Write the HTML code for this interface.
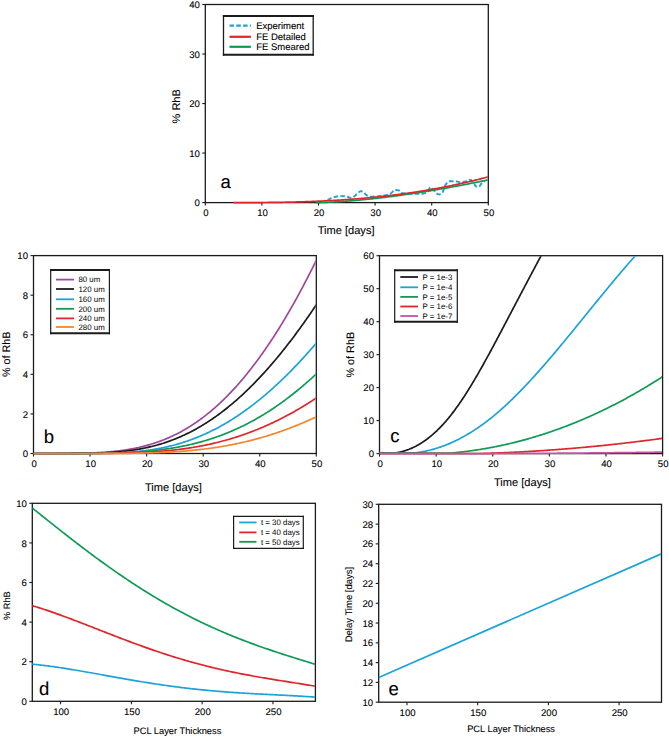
<!DOCTYPE html>
<html><head><meta charset="utf-8"><style>
html,body{margin:0;padding:0;background:#fff;}
body{width:669px;height:737px;overflow:hidden;font-family:"Liberation Sans", sans-serif;}
svg{display:block;}
</style></head><body>
<svg width="669" height="737" viewBox="0 0 669 737" font-family='"Liberation Sans", sans-serif' fill="#000" text-rendering="geometricPrecision">
<style>text{stroke:#000;stroke-width:0.1px;} text.lg{stroke:none;}</style>
<rect width="669" height="737" fill="#fff"/>
<defs>
<clipPath id="ca"><rect x="205.00" y="5.10" width="282.70" height="199.90"/></clipPath>
<clipPath id="cb"><rect x="33.20" y="256.20" width="282.50" height="199.70"/></clipPath>
<clipPath id="cc"><rect x="379.20" y="256.30" width="282.80" height="199.70"/></clipPath>
<clipPath id="cd"><rect x="32.00" y="503.90" width="282.80" height="199.80"/></clipPath>
<clipPath id="ce"><rect x="378.40" y="504.90" width="282.50" height="199.70"/></clipPath>
</defs>
<rect x="205.30" y="4.50" width="283.00" height="198.10" fill="none" stroke="#1c1a1b" stroke-width="1.3"/>
<rect x="33.50" y="255.60" width="282.80" height="197.90" fill="none" stroke="#1c1a1b" stroke-width="1.3"/>
<rect x="379.50" y="255.70" width="283.10" height="197.90" fill="none" stroke="#1c1a1b" stroke-width="1.3"/>
<rect x="32.30" y="503.30" width="283.10" height="198.00" fill="none" stroke="#1c1a1b" stroke-width="1.3"/>
<rect x="378.70" y="504.30" width="282.80" height="197.90" fill="none" stroke="#1c1a1b" stroke-width="1.3"/>
<line x1="205.30" y1="202.60" x2="205.30" y2="205.60" stroke="#1c1a1b" stroke-width="1.1"/>
<text x="205.90" y="216.00" font-size="9.6" text-anchor="middle">0</text>
<line x1="261.90" y1="202.60" x2="261.90" y2="205.60" stroke="#1c1a1b" stroke-width="1.1"/>
<text x="262.50" y="216.00" font-size="9.6" text-anchor="middle">10</text>
<line x1="318.50" y1="202.60" x2="318.50" y2="205.60" stroke="#1c1a1b" stroke-width="1.1"/>
<text x="319.10" y="216.00" font-size="9.6" text-anchor="middle">20</text>
<line x1="375.10" y1="202.60" x2="375.10" y2="205.60" stroke="#1c1a1b" stroke-width="1.1"/>
<text x="375.70" y="216.00" font-size="9.6" text-anchor="middle">30</text>
<line x1="431.70" y1="202.60" x2="431.70" y2="205.60" stroke="#1c1a1b" stroke-width="1.1"/>
<text x="432.30" y="216.00" font-size="9.6" text-anchor="middle">40</text>
<line x1="488.30" y1="202.60" x2="488.30" y2="205.60" stroke="#1c1a1b" stroke-width="1.1"/>
<text x="488.90" y="216.00" font-size="9.6" text-anchor="middle">50</text>
<line x1="202.30" y1="202.60" x2="205.30" y2="202.60" stroke="#1c1a1b" stroke-width="1.1"/>
<text x="199.80" y="206.20" font-size="9.6" text-anchor="end">0</text>
<line x1="202.30" y1="153.07" x2="205.30" y2="153.07" stroke="#1c1a1b" stroke-width="1.1"/>
<text x="199.80" y="156.67" font-size="9.6" text-anchor="end">10</text>
<line x1="202.30" y1="103.55" x2="205.30" y2="103.55" stroke="#1c1a1b" stroke-width="1.1"/>
<text x="199.80" y="107.15" font-size="9.6" text-anchor="end">20</text>
<line x1="202.30" y1="54.03" x2="205.30" y2="54.03" stroke="#1c1a1b" stroke-width="1.1"/>
<text x="199.80" y="57.63" font-size="9.6" text-anchor="end">30</text>
<line x1="202.30" y1="4.50" x2="205.30" y2="4.50" stroke="#1c1a1b" stroke-width="1.1"/>
<text x="199.80" y="8.10" font-size="9.6" text-anchor="end">40</text>
<line x1="33.50" y1="453.50" x2="33.50" y2="456.50" stroke="#1c1a1b" stroke-width="1.1"/>
<text x="34.10" y="466.90" font-size="9.6" text-anchor="middle">0</text>
<line x1="90.06" y1="453.50" x2="90.06" y2="456.50" stroke="#1c1a1b" stroke-width="1.1"/>
<text x="90.66" y="466.90" font-size="9.6" text-anchor="middle">10</text>
<line x1="146.62" y1="453.50" x2="146.62" y2="456.50" stroke="#1c1a1b" stroke-width="1.1"/>
<text x="147.22" y="466.90" font-size="9.6" text-anchor="middle">20</text>
<line x1="203.18" y1="453.50" x2="203.18" y2="456.50" stroke="#1c1a1b" stroke-width="1.1"/>
<text x="203.78" y="466.90" font-size="9.6" text-anchor="middle">30</text>
<line x1="259.74" y1="453.50" x2="259.74" y2="456.50" stroke="#1c1a1b" stroke-width="1.1"/>
<text x="260.34" y="466.90" font-size="9.6" text-anchor="middle">40</text>
<line x1="316.30" y1="453.50" x2="316.30" y2="456.50" stroke="#1c1a1b" stroke-width="1.1"/>
<text x="316.90" y="466.90" font-size="9.6" text-anchor="middle">50</text>
<line x1="30.50" y1="453.50" x2="33.50" y2="453.50" stroke="#1c1a1b" stroke-width="1.1"/>
<text x="28.00" y="457.10" font-size="9.6" text-anchor="end">0</text>
<line x1="30.50" y1="413.92" x2="33.50" y2="413.92" stroke="#1c1a1b" stroke-width="1.1"/>
<text x="28.00" y="417.52" font-size="9.6" text-anchor="end">2</text>
<line x1="30.50" y1="374.34" x2="33.50" y2="374.34" stroke="#1c1a1b" stroke-width="1.1"/>
<text x="28.00" y="377.94" font-size="9.6" text-anchor="end">4</text>
<line x1="30.50" y1="334.76" x2="33.50" y2="334.76" stroke="#1c1a1b" stroke-width="1.1"/>
<text x="28.00" y="338.36" font-size="9.6" text-anchor="end">6</text>
<line x1="30.50" y1="295.18" x2="33.50" y2="295.18" stroke="#1c1a1b" stroke-width="1.1"/>
<text x="28.00" y="298.78" font-size="9.6" text-anchor="end">8</text>
<line x1="30.50" y1="255.60" x2="33.50" y2="255.60" stroke="#1c1a1b" stroke-width="1.1"/>
<text x="28.00" y="259.20" font-size="9.6" text-anchor="end">10</text>
<line x1="379.50" y1="453.60" x2="379.50" y2="456.60" stroke="#1c1a1b" stroke-width="1.1"/>
<text x="380.10" y="467.00" font-size="9.6" text-anchor="middle">0</text>
<line x1="436.12" y1="453.60" x2="436.12" y2="456.60" stroke="#1c1a1b" stroke-width="1.1"/>
<text x="436.72" y="467.00" font-size="9.6" text-anchor="middle">10</text>
<line x1="492.74" y1="453.60" x2="492.74" y2="456.60" stroke="#1c1a1b" stroke-width="1.1"/>
<text x="493.34" y="467.00" font-size="9.6" text-anchor="middle">20</text>
<line x1="549.36" y1="453.60" x2="549.36" y2="456.60" stroke="#1c1a1b" stroke-width="1.1"/>
<text x="549.96" y="467.00" font-size="9.6" text-anchor="middle">30</text>
<line x1="605.98" y1="453.60" x2="605.98" y2="456.60" stroke="#1c1a1b" stroke-width="1.1"/>
<text x="606.58" y="467.00" font-size="9.6" text-anchor="middle">40</text>
<line x1="662.60" y1="453.60" x2="662.60" y2="456.60" stroke="#1c1a1b" stroke-width="1.1"/>
<text x="663.20" y="467.00" font-size="9.6" text-anchor="middle">50</text>
<line x1="376.50" y1="453.60" x2="379.50" y2="453.60" stroke="#1c1a1b" stroke-width="1.1"/>
<text x="374.00" y="457.20" font-size="9.6" text-anchor="end">0</text>
<line x1="376.50" y1="420.62" x2="379.50" y2="420.62" stroke="#1c1a1b" stroke-width="1.1"/>
<text x="374.00" y="424.22" font-size="9.6" text-anchor="end">10</text>
<line x1="376.50" y1="387.63" x2="379.50" y2="387.63" stroke="#1c1a1b" stroke-width="1.1"/>
<text x="374.00" y="391.23" font-size="9.6" text-anchor="end">20</text>
<line x1="376.50" y1="354.65" x2="379.50" y2="354.65" stroke="#1c1a1b" stroke-width="1.1"/>
<text x="374.00" y="358.25" font-size="9.6" text-anchor="end">30</text>
<line x1="376.50" y1="321.67" x2="379.50" y2="321.67" stroke="#1c1a1b" stroke-width="1.1"/>
<text x="374.00" y="325.27" font-size="9.6" text-anchor="end">40</text>
<line x1="376.50" y1="288.68" x2="379.50" y2="288.68" stroke="#1c1a1b" stroke-width="1.1"/>
<text x="374.00" y="292.28" font-size="9.6" text-anchor="end">50</text>
<line x1="376.50" y1="255.70" x2="379.50" y2="255.70" stroke="#1c1a1b" stroke-width="1.1"/>
<text x="374.00" y="259.30" font-size="9.6" text-anchor="end">60</text>
<line x1="60.61" y1="701.30" x2="60.61" y2="704.30" stroke="#1c1a1b" stroke-width="1.1"/>
<text x="61.21" y="714.70" font-size="9.6" text-anchor="middle">100</text>
<line x1="131.38" y1="701.30" x2="131.38" y2="704.30" stroke="#1c1a1b" stroke-width="1.1"/>
<text x="131.98" y="714.70" font-size="9.6" text-anchor="middle">150</text>
<line x1="202.16" y1="701.30" x2="202.16" y2="704.30" stroke="#1c1a1b" stroke-width="1.1"/>
<text x="202.76" y="714.70" font-size="9.6" text-anchor="middle">200</text>
<line x1="272.93" y1="701.30" x2="272.93" y2="704.30" stroke="#1c1a1b" stroke-width="1.1"/>
<text x="273.53" y="714.70" font-size="9.6" text-anchor="middle">250</text>
<line x1="29.30" y1="701.30" x2="32.30" y2="701.30" stroke="#1c1a1b" stroke-width="1.1"/>
<text x="26.80" y="704.90" font-size="9.6" text-anchor="end">0</text>
<line x1="29.30" y1="661.70" x2="32.30" y2="661.70" stroke="#1c1a1b" stroke-width="1.1"/>
<text x="26.80" y="665.30" font-size="9.6" text-anchor="end">2</text>
<line x1="29.30" y1="622.10" x2="32.30" y2="622.10" stroke="#1c1a1b" stroke-width="1.1"/>
<text x="26.80" y="625.70" font-size="9.6" text-anchor="end">4</text>
<line x1="29.30" y1="582.50" x2="32.30" y2="582.50" stroke="#1c1a1b" stroke-width="1.1"/>
<text x="26.80" y="586.10" font-size="9.6" text-anchor="end">6</text>
<line x1="29.30" y1="542.90" x2="32.30" y2="542.90" stroke="#1c1a1b" stroke-width="1.1"/>
<text x="26.80" y="546.50" font-size="9.6" text-anchor="end">8</text>
<line x1="29.30" y1="503.30" x2="32.30" y2="503.30" stroke="#1c1a1b" stroke-width="1.1"/>
<text x="26.80" y="506.90" font-size="9.6" text-anchor="end">10</text>
<line x1="406.98" y1="702.20" x2="406.98" y2="705.20" stroke="#1c1a1b" stroke-width="1.1"/>
<text x="407.58" y="715.60" font-size="9.6" text-anchor="middle">100</text>
<line x1="477.68" y1="702.20" x2="477.68" y2="705.20" stroke="#1c1a1b" stroke-width="1.1"/>
<text x="478.28" y="715.60" font-size="9.6" text-anchor="middle">150</text>
<line x1="548.38" y1="702.20" x2="548.38" y2="705.20" stroke="#1c1a1b" stroke-width="1.1"/>
<text x="548.98" y="715.60" font-size="9.6" text-anchor="middle">200</text>
<line x1="619.08" y1="702.20" x2="619.08" y2="705.20" stroke="#1c1a1b" stroke-width="1.1"/>
<text x="619.68" y="715.60" font-size="9.6" text-anchor="middle">250</text>
<line x1="375.70" y1="702.20" x2="378.70" y2="702.20" stroke="#1c1a1b" stroke-width="1.1"/>
<text x="373.20" y="705.80" font-size="9.6" text-anchor="end">10</text>
<line x1="375.70" y1="682.41" x2="378.70" y2="682.41" stroke="#1c1a1b" stroke-width="1.1"/>
<text x="373.20" y="686.01" font-size="9.6" text-anchor="end">12</text>
<line x1="375.70" y1="662.62" x2="378.70" y2="662.62" stroke="#1c1a1b" stroke-width="1.1"/>
<text x="373.20" y="666.22" font-size="9.6" text-anchor="end">14</text>
<line x1="375.70" y1="642.83" x2="378.70" y2="642.83" stroke="#1c1a1b" stroke-width="1.1"/>
<text x="373.20" y="646.43" font-size="9.6" text-anchor="end">16</text>
<line x1="375.70" y1="623.04" x2="378.70" y2="623.04" stroke="#1c1a1b" stroke-width="1.1"/>
<text x="373.20" y="626.64" font-size="9.6" text-anchor="end">18</text>
<line x1="375.70" y1="603.25" x2="378.70" y2="603.25" stroke="#1c1a1b" stroke-width="1.1"/>
<text x="373.20" y="606.85" font-size="9.6" text-anchor="end">20</text>
<line x1="375.70" y1="583.46" x2="378.70" y2="583.46" stroke="#1c1a1b" stroke-width="1.1"/>
<text x="373.20" y="587.06" font-size="9.6" text-anchor="end">22</text>
<line x1="375.70" y1="563.67" x2="378.70" y2="563.67" stroke="#1c1a1b" stroke-width="1.1"/>
<text x="373.20" y="567.27" font-size="9.6" text-anchor="end">24</text>
<line x1="375.70" y1="543.88" x2="378.70" y2="543.88" stroke="#1c1a1b" stroke-width="1.1"/>
<text x="373.20" y="547.48" font-size="9.6" text-anchor="end">26</text>
<line x1="375.70" y1="524.09" x2="378.70" y2="524.09" stroke="#1c1a1b" stroke-width="1.1"/>
<text x="373.20" y="527.69" font-size="9.6" text-anchor="end">28</text>
<line x1="375.70" y1="504.30" x2="378.70" y2="504.30" stroke="#1c1a1b" stroke-width="1.1"/>
<text x="373.20" y="507.90" font-size="9.6" text-anchor="end">30</text>
<polyline points="327.56,200.12 327.95,199.89 328.34,199.66 328.74,199.44 329.13,199.23 329.53,199.02 329.92,198.82 330.32,198.62 330.71,198.44 331.11,198.26 331.50,198.09 331.89,197.93 332.29,197.78 332.68,197.64 333.08,197.50 333.47,197.36 333.87,197.22 334.26,197.09 334.65,196.96 335.05,196.84 335.44,196.73 335.84,196.63 336.23,196.55 336.63,196.48 337.02,196.43 337.41,196.39 337.81,196.35 338.20,196.32 338.60,196.29 338.99,196.26 339.39,196.24 339.78,196.22 340.18,196.20 340.57,196.18 340.96,196.17 341.36,196.16 341.75,196.16 342.15,196.16 342.54,196.17 342.94,196.18 343.33,196.19 343.72,196.20 344.12,196.22 344.51,196.24 344.91,196.26 345.30,196.29 345.70,196.32 346.09,196.35 346.49,196.38 346.88,196.42 347.27,196.52 347.67,196.70 348.06,196.91 348.46,197.14 348.85,197.36 349.25,197.54 349.64,197.65 350.03,197.72 350.43,197.78 350.82,197.83 351.22,197.87 351.61,197.89 352.01,197.89 352.40,197.79 352.79,197.58 353.19,197.29 353.58,196.94 353.98,196.58 354.37,196.21 354.77,195.88 355.16,195.54 355.56,195.16 355.95,194.75 356.34,194.34 356.74,193.91 357.13,193.50 357.53,193.11 357.92,192.75 358.32,192.44 358.71,192.19 359.10,191.95 359.50,191.72 359.89,191.50 360.29,191.33 360.68,191.23 361.08,191.21 361.47,191.27 361.86,191.37 362.26,191.52 362.65,191.69 363.05,191.87 363.44,192.08 363.84,192.38 364.23,192.77 364.63,193.20 365.02,193.66 365.41,194.11 365.81,194.53 366.20,194.89 366.60,195.16 366.99,195.38 367.39,195.59 367.78,195.80 368.17,195.99 368.57,196.17 368.96,196.33 369.36,196.46 369.75,196.57 370.15,196.63 370.54,196.66 370.94,196.66 371.33,196.65 371.72,196.64 372.12,196.63 372.51,196.62 372.91,196.61 373.30,196.59 373.70,196.57 374.09,196.55 374.48,196.53 374.88,196.51 375.27,196.49 375.67,196.46 376.06,196.44 376.46,196.41 376.85,196.39 377.24,196.35 377.64,196.32 378.03,196.28 378.43,196.23 378.82,196.18 379.22,196.13 379.61,196.08 380.01,196.03 380.40,195.97 380.79,195.91 381.19,195.85 381.58,195.79 381.98,195.74 382.37,195.68 382.77,195.62 383.16,195.57 383.55,195.51 383.95,195.46 384.34,195.40 384.74,195.35 385.13,195.28 385.53,195.22 385.92,195.15 386.32,195.07 386.71,194.99 387.10,194.89 387.50,194.79 387.89,194.67 388.29,194.53 388.68,194.38 389.08,194.21 389.47,194.04 389.86,193.85 390.26,193.65 390.65,193.44 391.05,193.19 391.44,192.85 391.84,192.46 392.23,192.04 392.62,191.60 393.02,191.17 393.41,190.78 393.81,190.44 394.20,190.18 394.60,190.01 394.99,189.97 395.39,189.98 395.78,190.00 396.17,190.03 396.57,190.07 396.96,190.12 397.36,190.18 397.75,190.25 398.15,190.32 398.54,190.40 398.93,190.48 399.33,190.65 399.72,190.93 400.12,191.28 400.51,191.67 400.91,192.08 401.30,192.46 401.69,192.79 402.09,193.04 402.48,193.18 402.88,193.22 403.27,193.26 403.67,193.29 404.06,193.32 404.46,193.34 404.85,193.36 405.24,193.38 405.64,193.39 406.03,193.41 406.43,193.42 406.82,193.44 407.22,193.46 407.61,193.47 408.00,193.49 408.40,193.51 408.79,193.52 409.19,193.54 409.58,193.56 409.98,193.57 410.37,193.59 410.77,193.60 411.16,193.62 411.55,193.63 411.95,193.64 412.34,193.65 412.74,193.66 413.13,193.67 413.53,193.68 413.92,193.68 414.31,193.68 414.71,193.69 415.10,193.69 415.50,193.69 415.89,193.69 416.29,193.69 416.68,193.69 417.07,193.69 417.47,193.69 417.86,193.69 418.26,193.69 418.65,193.69 419.05,193.69 419.44,193.69 419.84,193.69 420.23,193.69 420.62,193.69 421.02,193.69 421.41,193.69 421.81,193.69 422.20,193.69 422.60,193.69 422.99,193.67 423.38,193.61 423.78,193.52 424.17,193.40 424.57,193.25 424.96,193.07 425.36,192.88 425.75,192.67 426.14,192.46 426.54,192.24 426.93,191.96 427.33,191.54 427.72,191.01 428.12,190.41 428.51,189.78 428.91,189.14 429.30,188.54 429.69,188.02 430.09,187.61 430.48,187.34 430.88,187.25 431.27,187.37 431.67,187.66 432.06,188.07 432.45,188.56 432.85,189.07 433.24,189.55 433.64,189.99 434.03,190.49 434.43,191.03 434.82,191.59 435.22,192.14 435.61,192.65 436.00,193.10 436.40,193.45 436.79,193.68 437.19,193.85 437.58,194.00 437.98,194.13 438.37,194.25 438.76,194.34 439.16,194.40 439.55,194.43 439.95,194.40 440.34,194.28 440.74,194.08 441.13,193.81 441.52,193.48 441.92,193.11 442.31,192.69 442.71,192.23 443.10,191.53 443.50,190.39 443.89,189.02 444.29,187.64 444.68,186.45 445.07,185.64 445.47,185.02 445.86,184.40 446.26,183.82 446.65,183.27 447.05,182.77 447.44,182.33 447.83,181.95 448.23,181.65 448.62,181.44 449.02,181.32 449.41,181.30 449.81,181.30 450.20,181.30 450.60,181.30 450.99,181.30 451.38,181.30 451.78,181.30 452.17,181.30 452.57,181.30 452.96,181.30 453.36,181.30 453.75,181.30 454.14,181.30 454.54,181.30 454.93,181.30 455.33,181.30 455.72,181.31 456.12,181.35 456.51,181.41 456.90,181.50 457.30,181.60 457.69,181.71 458.09,181.82 458.48,181.93 458.88,182.04 459.27,182.14 459.67,182.21 460.06,182.27 460.45,182.29 460.85,182.29 461.24,182.27 461.64,182.23 462.03,182.18 462.43,182.12 462.82,182.05 463.21,181.97 463.61,181.89 464.00,181.80 464.40,181.71 464.79,181.62 465.19,181.53 465.58,181.42 465.97,181.28 466.37,181.12 466.76,180.95 467.16,180.77 467.55,180.59 467.95,180.41 468.34,180.24 468.74,180.10 469.13,179.97 469.52,179.88 469.92,179.83 470.31,179.82 470.71,179.92 471.10,180.11 471.50,180.38 471.89,180.71 472.28,181.08 472.68,181.47 473.07,181.86 473.47,182.39 473.86,183.10 474.26,183.90 474.65,184.70 475.05,185.41 475.44,185.96 475.83,186.25 476.23,186.37 476.62,186.48 477.02,186.57 477.41,186.64 477.81,186.70 478.20,186.74 478.59,186.75 478.99,186.68 479.38,186.39 479.78,185.95 480.17,185.39 480.57,184.77 480.96,184.15 481.35,183.57 481.75,183.08 482.14,182.74 482.54,182.47 482.93,182.21 483.33,181.97 483.72,181.75 484.12,181.57 484.51,181.42 484.90,181.30" fill="none" stroke="#1ba3da" stroke-width="1.9" stroke-linejoin="round" stroke-dasharray="4.5 2.3" clip-path="url(#ca)"/>
<polyline points="315.67,202.60 316.54,202.60 317.40,202.59 318.27,202.57 319.14,202.56 320.01,202.54 320.87,202.52 321.74,202.49 322.61,202.47 323.48,202.44 324.34,202.41 325.21,202.38 326.08,202.35 326.95,202.31 327.81,202.27 328.68,202.24 329.55,202.20 330.42,202.16 331.28,202.11 332.15,202.07 333.02,202.02 333.89,201.98 334.75,201.93 335.62,201.88 336.49,201.83 337.36,201.78 338.22,201.72 339.09,201.67 339.96,201.61 340.83,201.55 341.69,201.50 342.56,201.44 343.43,201.38 344.30,201.31 345.16,201.25 346.03,201.19 346.90,201.12 347.77,201.06 348.63,200.99 349.50,200.92 350.37,200.85 351.24,200.78 352.10,200.71 352.97,200.64 353.84,200.56 354.71,200.49 355.57,200.41 356.44,200.34 357.31,200.26 358.18,200.18 359.04,200.10 359.91,200.02 360.78,199.94 361.65,199.86 362.51,199.77 363.38,199.69 364.25,199.60 365.12,199.52 365.98,199.43 366.85,199.34 367.72,199.25 368.59,199.16 369.45,199.07 370.32,198.98 371.19,198.89 372.06,198.80 372.92,198.70 373.79,198.61 374.66,198.51 375.53,198.42 376.39,198.32 377.26,198.22 378.13,198.12 379.00,198.02 379.86,197.92 380.73,197.82 381.60,197.72 382.47,197.61 383.33,197.51 384.20,197.40 385.07,197.30 385.94,197.19 386.80,197.09 387.67,196.98 388.54,196.87 389.41,196.76 390.27,196.65 391.14,196.54 392.01,196.43 392.88,196.31 393.74,196.20 394.61,196.09 395.48,195.97 396.35,195.85 397.21,195.74 398.08,195.62 398.95,195.50 399.82,195.38 400.68,195.27 401.55,195.15 402.42,195.02 403.29,194.90 404.15,194.78 405.02,194.66 405.89,194.53 406.76,194.41 407.62,194.28 408.49,194.16 409.36,194.03 410.23,193.90 411.09,193.78 411.96,193.65 412.83,193.52 413.70,193.39 414.56,193.26 415.43,193.13 416.30,192.99 417.17,192.86 418.03,192.73 418.90,192.59 419.77,192.46 420.64,192.32 421.50,192.19 422.37,192.05 423.24,191.91 424.11,191.77 424.97,191.63 425.84,191.50 426.71,191.36 427.58,191.21 428.44,191.07 429.31,190.93 430.18,190.79 431.05,190.64 431.91,190.50 432.78,190.36 433.65,190.21 434.52,190.06 435.38,189.92 436.25,189.77 437.12,189.62 437.99,189.47 438.85,189.32 439.72,189.17 440.59,189.02 441.46,188.87 442.32,188.72 443.19,188.57 444.06,188.41 444.93,188.26 445.79,188.11 446.66,187.95 447.53,187.80 448.40,187.64 449.26,187.48 450.13,187.33 451.00,187.17 451.87,187.01 452.73,186.85 453.60,186.69 454.47,186.53 455.34,186.37 456.20,186.21 457.07,186.05 457.94,185.88 458.81,185.72 459.67,185.56 460.54,185.39 461.41,185.23 462.28,185.06 463.14,184.89 464.01,184.73 464.88,184.56 465.75,184.39 466.61,184.22 467.48,184.05 468.35,183.88 469.22,183.71 470.08,183.54 470.95,183.37 471.82,183.20 472.69,183.02 473.55,182.85 474.42,182.68 475.29,182.50 476.16,182.33 477.02,182.15 477.89,181.98 478.76,181.80 479.63,181.62 480.49,181.44 481.36,181.27 482.23,181.09 483.10,180.91 483.96,180.73 484.83,180.55 485.70,180.37 486.57,180.18 487.43,180.00 488.30,179.82" fill="none" stroke="#0e9c54" stroke-width="1.7" stroke-linejoin="round" clip-path="url(#ca)"/>
<polyline points="233.60,202.60 234.45,202.60 235.30,202.60 236.16,202.60 237.01,202.60 237.86,202.60 238.71,202.60 239.56,202.60 240.41,202.60 241.27,202.60 242.12,202.60 242.97,202.60 243.82,202.59 244.67,202.59 245.53,202.59 246.38,202.59 247.23,202.59 248.08,202.59 248.93,202.58 249.78,202.58 250.64,202.58 251.49,202.58 252.34,202.57 253.19,202.57 254.04,202.57 254.90,202.56 255.75,202.56 256.60,202.56 257.45,202.55 258.30,202.55 259.16,202.54 260.01,202.54 260.86,202.53 261.71,202.53 262.56,202.52 263.41,202.51 264.27,202.51 265.12,202.50 265.97,202.49 266.82,202.48 267.67,202.48 268.53,202.47 269.38,202.46 270.23,202.45 271.08,202.44 271.93,202.43 272.78,202.42 273.64,202.41 274.49,202.40 275.34,202.39 276.19,202.37 277.04,202.36 277.90,202.35 278.75,202.34 279.60,202.32 280.45,202.31 281.30,202.30 282.15,202.28 283.01,202.27 283.86,202.25 284.71,202.23 285.56,202.22 286.41,202.20 287.27,202.18 288.12,202.17 288.97,202.15 289.82,202.13 290.67,202.11 291.53,202.09 292.38,202.07 293.23,202.05 294.08,202.03 294.93,202.01 295.78,201.99 296.64,201.96 297.49,201.94 298.34,201.92 299.19,201.89 300.04,201.87 300.90,201.84 301.75,201.82 302.60,201.79 303.45,201.76 304.30,201.74 305.15,201.71 306.01,201.68 306.86,201.65 307.71,201.62 308.56,201.59 309.41,201.56 310.27,201.53 311.12,201.50 311.97,201.47 312.82,201.43 313.67,201.40 314.52,201.37 315.38,201.33 316.23,201.30 317.08,201.26 317.93,201.22 318.78,201.19 319.64,201.15 320.49,201.11 321.34,201.07 322.19,201.03 323.04,200.99 323.89,200.95 324.75,200.91 325.60,200.87 326.45,200.82 327.30,200.78 328.15,200.74 329.01,200.69 329.86,200.65 330.71,200.60 331.56,200.55 332.41,200.51 333.27,200.46 334.12,200.41 334.97,200.36 335.82,200.31 336.67,200.26 337.52,200.21 338.38,200.15 339.23,200.10 340.08,200.05 340.93,199.99 341.78,199.94 342.64,199.88 343.49,199.82 344.34,199.77 345.19,199.71 346.04,199.65 346.89,199.59 347.75,199.53 348.60,199.47 349.45,199.41 350.30,199.34 351.15,199.28 352.01,199.22 352.86,199.15 353.71,199.09 354.56,199.02 355.41,198.95 356.26,198.88 357.12,198.82 357.97,198.75 358.82,198.68 359.67,198.61 360.52,198.53 361.38,198.46 362.23,198.39 363.08,198.31 363.93,198.24 364.78,198.16 365.64,198.08 366.49,198.01 367.34,197.93 368.19,197.85 369.04,197.77 369.89,197.69 370.75,197.61 371.60,197.52 372.45,197.44 373.30,197.36 374.15,197.27 375.01,197.19 375.86,197.10 376.71,197.01 377.56,196.92 378.41,196.83 379.26,196.74 380.12,196.65 380.97,196.56 381.82,196.47 382.67,196.37 383.52,196.28 384.38,196.18 385.23,196.09 386.08,195.99 386.93,195.89 387.78,195.79 388.63,195.69 389.49,195.59 390.34,195.49 391.19,195.38 392.04,195.28 392.89,195.18 393.75,195.07 394.60,194.96 395.45,194.86 396.30,194.75 397.15,194.64 398.01,194.53 398.86,194.42 399.71,194.30 400.56,194.19 401.41,194.08 402.26,193.96 403.12,193.84 403.97,193.73 404.82,193.61 405.67,193.49 406.52,193.37 407.38,193.25 408.23,193.13 409.08,193.00 409.93,192.88 410.78,192.76 411.63,192.63 412.49,192.50 413.34,192.38 414.19,192.25 415.04,192.12 415.89,191.99 416.75,191.85 417.60,191.72 418.45,191.59 419.30,191.45 420.15,191.32 421.00,191.18 421.86,191.04 422.71,190.90 423.56,190.76 424.41,190.62 425.26,190.48 426.12,190.33 426.97,190.19 427.82,190.04 428.67,189.90 429.52,189.75 430.37,189.60 431.23,189.45 432.08,189.30 432.93,189.15 433.78,189.00 434.63,188.84 435.49,188.69 436.34,188.53 437.19,188.37 438.04,188.22 438.89,188.06 439.75,187.90 440.60,187.74 441.45,187.57 442.30,187.41 443.15,187.24 444.00,187.08 444.86,186.91 445.71,186.74 446.56,186.57 447.41,186.40 448.26,186.23 449.12,186.06 449.97,185.88 450.82,185.71 451.67,185.53 452.52,185.36 453.37,185.18 454.23,185.00 455.08,184.82 455.93,184.64 456.78,184.45 457.63,184.27 458.49,184.08 459.34,183.90 460.19,183.71 461.04,183.52 461.89,183.33 462.74,183.14 463.60,182.95 464.45,182.75 465.30,182.56 466.15,182.36 467.00,182.17 467.86,181.97 468.71,181.77 469.56,181.57 470.41,181.37 471.26,181.16 472.12,180.96 472.97,180.75 473.82,180.55 474.67,180.34 475.52,180.13 476.37,179.92 477.23,179.71 478.08,179.50 478.93,179.28 479.78,179.07 480.63,178.85 481.49,178.63 482.34,178.41 483.19,178.19 484.04,177.97 484.89,177.75 485.74,177.53 486.60,177.30 487.45,177.07 488.30,176.85" fill="none" stroke="#e0262b" stroke-width="1.7" stroke-linejoin="round" clip-path="url(#ca)"/>
<polyline points="33.50,453.50 34.45,453.50 35.39,453.50 36.34,453.50 37.28,453.50 38.23,453.50 39.17,453.50 40.12,453.50 41.07,453.50 42.01,453.50 42.96,453.50 43.90,453.50 44.85,453.50 45.80,453.49 46.74,453.49 47.69,453.49 48.63,453.49 49.58,453.49 50.52,453.49 51.47,453.49 52.42,453.49 53.36,453.48 54.31,453.48 55.25,453.48 56.20,453.48 57.15,453.47 58.09,453.47 59.04,453.47 59.98,453.46 60.93,453.46 61.87,453.46 62.82,453.45 63.77,453.45 64.71,453.44 65.66,453.43 66.60,453.43 67.55,453.42 68.50,453.41 69.44,453.40 70.39,453.39 71.33,453.38 72.28,453.37 73.22,453.36 74.17,453.35 75.12,453.34 76.06,453.32 77.01,453.31 77.95,453.29 78.90,453.27 79.85,453.26 80.79,453.24 81.74,453.22 82.68,453.20 83.63,453.17 84.57,453.15 85.52,453.12 86.47,453.10 87.41,453.07 88.36,453.04 89.30,453.01 90.25,452.97 91.19,452.94 92.14,452.90 93.09,452.86 94.03,452.82 94.98,452.78 95.92,452.73 96.87,452.69 97.82,452.64 98.76,452.59 99.71,452.53 100.65,452.48 101.60,452.42 102.54,452.36 103.49,452.30 104.44,452.23 105.38,452.16 106.33,452.09 107.27,452.02 108.22,451.94 109.17,451.86 110.11,451.78 111.06,451.69 112.00,451.60 112.95,451.51 113.89,451.42 114.84,451.32 115.79,451.21 116.73,451.11 117.68,451.00 118.62,450.88 119.57,450.77 120.52,450.65 121.46,450.52 122.41,450.39 123.35,450.26 124.30,450.12 125.24,449.98 126.19,449.84 127.14,449.69 128.08,449.53 129.03,449.37 129.97,449.21 130.92,449.04 131.87,448.87 132.81,448.69 133.76,448.51 134.70,448.32 135.65,448.13 136.59,447.93 137.54,447.73 138.49,447.52 139.43,447.31 140.38,447.09 141.32,446.86 142.27,446.63 143.22,446.40 144.16,446.16 145.11,445.91 146.05,445.66 147.00,445.40 147.94,445.14 148.89,444.87 149.84,444.59 150.78,444.31 151.73,444.02 152.67,443.73 153.62,443.43 154.56,443.12 155.51,442.80 156.46,442.48 157.40,442.16 158.35,441.82 159.29,441.48 160.24,441.14 161.19,440.78 162.13,440.42 163.08,440.05 164.02,439.68 164.97,439.30 165.91,438.91 166.86,438.51 167.81,438.11 168.75,437.70 169.70,437.28 170.64,436.85 171.59,436.42 172.54,435.98 173.48,435.53 174.43,435.07 175.37,434.61 176.32,434.14 177.26,433.66 178.21,433.17 179.16,432.68 180.10,432.17 181.05,431.66 181.99,431.14 182.94,430.62 183.89,430.08 184.83,429.54 185.78,428.98 186.72,428.42 187.67,427.85 188.61,427.28 189.56,426.69 190.51,426.10 191.45,425.49 192.40,424.88 193.34,424.26 194.29,423.63 195.24,423.00 196.18,422.35 197.13,421.70 198.07,421.03 199.02,420.36 199.96,419.68 200.91,418.99 201.86,418.29 202.80,417.58 203.75,416.86 204.69,416.13 205.64,415.40 206.58,414.65 207.53,413.90 208.48,413.14 209.42,412.36 210.37,411.58 211.31,410.79 212.26,409.99 213.21,409.18 214.15,408.36 215.10,407.53 216.04,406.69 216.99,405.84 217.93,404.98 218.88,404.12 219.83,403.24 220.77,402.35 221.72,401.45 222.66,400.55 223.61,399.63 224.56,398.71 225.50,397.77 226.45,396.83 227.39,395.87 228.34,394.91 229.28,393.93 230.23,392.95 231.18,391.95 232.12,390.95 233.07,389.93 234.01,388.91 234.96,387.87 235.91,386.83 236.85,385.77 237.80,384.71 238.74,383.63 239.69,382.55 240.63,381.45 241.58,380.35 242.53,379.23 243.47,378.11 244.42,376.97 245.36,375.83 246.31,374.67 247.26,373.50 248.20,372.33 249.15,371.14 250.09,369.94 251.04,368.74 251.98,367.52 252.93,366.29 253.88,365.05 254.82,363.81 255.77,362.55 256.71,361.28 257.66,360.00 258.61,358.71 259.55,357.41 260.50,356.10 261.44,354.78 262.39,353.45 263.33,352.10 264.28,350.75 265.23,349.39 266.17,348.02 267.12,346.63 268.06,345.24 269.01,343.83 269.95,342.42 270.90,340.99 271.85,339.56 272.79,338.11 273.74,336.66 274.68,335.19 275.63,333.71 276.58,332.22 277.52,330.73 278.47,329.22 279.41,327.70 280.36,326.17 281.30,324.63 282.25,323.08 283.20,321.52 284.14,319.94 285.09,318.36 286.03,316.77 286.98,315.17 287.93,313.55 288.87,311.93 289.82,310.29 290.76,308.65 291.71,306.99 292.65,305.33 293.60,303.65 294.55,301.97 295.49,300.27 296.44,298.56 297.38,296.84 298.33,295.11 299.28,293.37 300.22,291.62 301.17,289.86 302.11,288.09 303.06,286.31 304.00,284.52 304.95,282.72 305.90,280.91 306.84,279.09 307.79,277.25 308.73,275.41 309.68,273.56 310.63,271.69 311.57,269.82 312.52,267.93 313.46,266.04 314.41,264.13 315.35,262.22 316.30,260.29" fill="none" stroke="#a0479b" stroke-width="1.7" stroke-linejoin="round" clip-path="url(#cb)"/>
<polyline points="33.50,453.50 34.45,453.50 35.39,453.50 36.34,453.50 37.28,453.50 38.23,453.50 39.17,453.50 40.12,453.50 41.07,453.50 42.01,453.50 42.96,453.50 43.90,453.50 44.85,453.50 45.80,453.50 46.74,453.50 47.69,453.50 48.63,453.50 49.58,453.50 50.52,453.50 51.47,453.50 52.42,453.50 53.36,453.50 54.31,453.50 55.25,453.50 56.20,453.50 57.15,453.50 58.09,453.50 59.04,453.50 59.98,453.49 60.93,453.49 61.87,453.49 62.82,453.49 63.77,453.49 64.71,453.49 65.66,453.49 66.60,453.48 67.55,453.48 68.50,453.48 69.44,453.48 70.39,453.47 71.33,453.47 72.28,453.46 73.22,453.46 74.17,453.46 75.12,453.45 76.06,453.44 77.01,453.44 77.95,453.43 78.90,453.42 79.85,453.41 80.79,453.40 81.74,453.39 82.68,453.38 83.63,453.37 84.57,453.36 85.52,453.35 86.47,453.33 87.41,453.32 88.36,453.30 89.30,453.28 90.25,453.26 91.19,453.24 92.14,453.22 93.09,453.20 94.03,453.17 94.98,453.15 95.92,453.12 96.87,453.09 97.82,453.06 98.76,453.03 99.71,452.99 100.65,452.96 101.60,452.92 102.54,452.88 103.49,452.84 104.44,452.79 105.38,452.75 106.33,452.70 107.27,452.65 108.22,452.60 109.17,452.54 110.11,452.48 111.06,452.42 112.00,452.36 112.95,452.29 113.89,452.22 114.84,452.15 115.79,452.08 116.73,452.00 117.68,451.92 118.62,451.84 119.57,451.75 120.52,451.66 121.46,451.57 122.41,451.47 123.35,451.37 124.30,451.27 125.24,451.16 126.19,451.05 127.14,450.93 128.08,450.82 129.03,450.69 129.97,450.57 130.92,450.44 131.87,450.30 132.81,450.17 133.76,450.02 134.70,449.88 135.65,449.73 136.59,449.57 137.54,449.41 138.49,449.25 139.43,449.08 140.38,448.91 141.32,448.73 142.27,448.55 143.22,448.36 144.16,448.17 145.11,447.97 146.05,447.77 147.00,447.57 147.94,447.36 148.89,447.14 149.84,446.92 150.78,446.69 151.73,446.46 152.67,446.22 153.62,445.98 154.56,445.73 155.51,445.48 156.46,445.22 157.40,444.96 158.35,444.69 159.29,444.41 160.24,444.13 161.19,443.85 162.13,443.55 163.08,443.26 164.02,442.95 164.97,442.64 165.91,442.33 166.86,442.00 167.81,441.68 168.75,441.34 169.70,441.00 170.64,440.66 171.59,440.31 172.54,439.95 173.48,439.58 174.43,439.21 175.37,438.84 176.32,438.45 177.26,438.06 178.21,437.67 179.16,437.27 180.10,436.86 181.05,436.44 181.99,436.02 182.94,435.59 183.89,435.16 184.83,434.72 185.78,434.27 186.72,433.82 187.67,433.36 188.61,432.89 189.56,432.41 190.51,431.93 191.45,431.44 192.40,430.95 193.34,430.45 194.29,429.94 195.24,429.42 196.18,428.90 197.13,428.37 198.07,427.84 199.02,427.29 199.96,426.75 200.91,426.19 201.86,425.63 202.80,425.05 203.75,424.48 204.69,423.89 205.64,423.30 206.58,422.70 207.53,422.10 208.48,421.48 209.42,420.86 210.37,420.24 211.31,419.60 212.26,418.96 213.21,418.31 214.15,417.66 215.10,417.00 216.04,416.33 216.99,415.65 217.93,414.96 218.88,414.27 219.83,413.58 220.77,412.87 221.72,412.16 222.66,411.44 223.61,410.71 224.56,409.97 225.50,409.23 226.45,408.48 227.39,407.73 228.34,406.96 229.28,406.19 230.23,405.42 231.18,404.63 232.12,403.84 233.07,403.04 234.01,402.23 234.96,401.42 235.91,400.59 236.85,399.77 237.80,398.93 238.74,398.09 239.69,397.24 240.63,396.38 241.58,395.51 242.53,394.64 243.47,393.76 244.42,392.87 245.36,391.98 246.31,391.08 247.26,390.17 248.20,389.25 249.15,388.33 250.09,387.40 251.04,386.46 251.98,385.52 252.93,384.57 253.88,383.61 254.82,382.64 255.77,381.67 256.71,380.69 257.66,379.70 258.61,378.70 259.55,377.70 260.50,376.69 261.44,375.67 262.39,374.65 263.33,373.62 264.28,372.58 265.23,371.53 266.17,370.48 267.12,369.42 268.06,368.36 269.01,367.28 269.95,366.20 270.90,365.11 271.85,364.02 272.79,362.92 273.74,361.81 274.68,360.69 275.63,359.57 276.58,358.44 277.52,357.30 278.47,356.15 279.41,355.00 280.36,353.84 281.30,352.68 282.25,351.51 283.20,350.33 284.14,349.14 285.09,347.95 286.03,346.75 286.98,345.54 287.93,344.33 288.87,343.10 289.82,341.88 290.76,340.64 291.71,339.40 292.65,338.15 293.60,336.90 294.55,335.64 295.49,334.37 296.44,333.09 297.38,331.81 298.33,330.52 299.28,329.22 300.22,327.92 301.17,326.61 302.11,325.29 303.06,323.97 304.00,322.64 304.95,321.31 305.90,319.96 306.84,318.61 307.79,317.26 308.73,315.90 309.68,314.53 310.63,313.15 311.57,311.77 312.52,310.38 313.46,308.98 314.41,307.58 315.35,306.17 316.30,304.76" fill="none" stroke="#1c1a1b" stroke-width="1.7" stroke-linejoin="round" clip-path="url(#cb)"/>
<polyline points="33.50,453.50 34.45,453.50 35.39,453.50 36.34,453.50 37.28,453.50 38.23,453.50 39.17,453.50 40.12,453.50 41.07,453.50 42.01,453.50 42.96,453.50 43.90,453.50 44.85,453.50 45.80,453.50 46.74,453.50 47.69,453.50 48.63,453.50 49.58,453.50 50.52,453.50 51.47,453.50 52.42,453.50 53.36,453.50 54.31,453.50 55.25,453.50 56.20,453.50 57.15,453.50 58.09,453.50 59.04,453.50 59.98,453.50 60.93,453.50 61.87,453.50 62.82,453.50 63.77,453.50 64.71,453.50 65.66,453.50 66.60,453.50 67.55,453.50 68.50,453.50 69.44,453.50 70.39,453.50 71.33,453.50 72.28,453.50 73.22,453.50 74.17,453.49 75.12,453.49 76.06,453.49 77.01,453.49 77.95,453.49 78.90,453.49 79.85,453.49 80.79,453.48 81.74,453.48 82.68,453.48 83.63,453.48 84.57,453.47 85.52,453.47 86.47,453.47 87.41,453.46 88.36,453.46 89.30,453.45 90.25,453.45 91.19,453.44 92.14,453.43 93.09,453.43 94.03,453.42 94.98,453.41 95.92,453.40 96.87,453.39 97.82,453.38 98.76,453.37 99.71,453.35 100.65,453.34 101.60,453.32 102.54,453.31 103.49,453.29 104.44,453.27 105.38,453.25 106.33,453.23 107.27,453.21 108.22,453.19 109.17,453.16 110.11,453.14 111.06,453.11 112.00,453.08 112.95,453.05 113.89,453.02 114.84,452.99 115.79,452.95 116.73,452.91 117.68,452.87 118.62,452.83 119.57,452.79 120.52,452.74 121.46,452.70 122.41,452.65 123.35,452.59 124.30,452.54 125.24,452.48 126.19,452.42 127.14,452.36 128.08,452.30 129.03,452.23 129.97,452.16 130.92,452.09 131.87,452.02 132.81,451.94 133.76,451.86 134.70,451.78 135.65,451.69 136.59,451.60 137.54,451.51 138.49,451.41 139.43,451.32 140.38,451.21 141.32,451.11 142.27,451.00 143.22,450.89 144.16,450.77 145.11,450.66 146.05,450.53 147.00,450.41 147.94,450.28 148.89,450.14 149.84,450.01 150.78,449.87 151.73,449.72 152.67,449.57 153.62,449.42 154.56,449.26 155.51,449.10 156.46,448.94 157.40,448.77 158.35,448.59 159.29,448.42 160.24,448.24 161.19,448.05 162.13,447.86 163.08,447.66 164.02,447.46 164.97,447.26 165.91,447.05 166.86,446.84 167.81,446.62 168.75,446.40 169.70,446.17 170.64,445.94 171.59,445.70 172.54,445.46 173.48,445.21 174.43,444.96 175.37,444.71 176.32,444.45 177.26,444.18 178.21,443.91 179.16,443.63 180.10,443.35 181.05,443.07 181.99,442.77 182.94,442.48 183.89,442.18 184.83,441.87 185.78,441.56 186.72,441.24 187.67,440.92 188.61,440.59 189.56,440.25 190.51,439.92 191.45,439.57 192.40,439.22 193.34,438.87 194.29,438.50 195.24,438.14 196.18,437.77 197.13,437.39 198.07,437.01 199.02,436.62 199.96,436.22 200.91,435.82 201.86,435.42 202.80,435.01 203.75,434.59 204.69,434.17 205.64,433.74 206.58,433.31 207.53,432.87 208.48,432.42 209.42,431.97 210.37,431.51 211.31,431.05 212.26,430.58 213.21,430.11 214.15,429.63 215.10,429.14 216.04,428.65 216.99,428.15 217.93,427.65 218.88,427.14 219.83,426.63 220.77,426.11 221.72,425.58 222.66,425.05 223.61,424.51 224.56,423.96 225.50,423.41 226.45,422.85 227.39,422.29 228.34,421.72 229.28,421.15 230.23,420.57 231.18,419.98 232.12,419.39 233.07,418.79 234.01,418.19 234.96,417.58 235.91,416.96 236.85,416.34 237.80,415.71 238.74,415.08 239.69,414.44 240.63,413.79 241.58,413.14 242.53,412.48 243.47,411.82 244.42,411.15 245.36,410.47 246.31,409.79 247.26,409.10 248.20,408.41 249.15,407.71 250.09,407.00 251.04,406.29 251.98,405.57 252.93,404.85 253.88,404.12 254.82,403.38 255.77,402.64 256.71,401.89 257.66,401.14 258.61,400.38 259.55,399.62 260.50,398.84 261.44,398.07 262.39,397.28 263.33,396.49 264.28,395.70 265.23,394.90 266.17,394.09 267.12,393.28 268.06,392.46 269.01,391.64 269.95,390.81 270.90,389.97 271.85,389.13 272.79,388.28 273.74,387.43 274.68,386.57 275.63,385.70 276.58,384.83 277.52,383.95 278.47,383.07 279.41,382.18 280.36,381.29 281.30,380.39 282.25,379.48 283.20,378.57 284.14,377.65 285.09,376.73 286.03,375.80 286.98,374.87 287.93,373.93 288.87,372.98 289.82,372.03 290.76,371.07 291.71,370.11 292.65,369.14 293.60,368.17 294.55,367.19 295.49,366.20 296.44,365.21 297.38,364.21 298.33,363.21 299.28,362.20 300.22,361.19 301.17,360.17 302.11,359.15 303.06,358.12 304.00,357.08 304.95,356.04 305.90,354.99 306.84,353.94 307.79,352.88 308.73,351.82 309.68,350.75 310.63,349.68 311.57,348.60 312.52,347.51 313.46,346.42 314.41,345.33 315.35,344.23 316.30,343.12" fill="none" stroke="#1ba3da" stroke-width="1.7" stroke-linejoin="round" clip-path="url(#cb)"/>
<polyline points="33.50,453.50 34.45,453.50 35.39,453.50 36.34,453.50 37.28,453.50 38.23,453.50 39.17,453.50 40.12,453.50 41.07,453.50 42.01,453.50 42.96,453.50 43.90,453.50 44.85,453.50 45.80,453.50 46.74,453.50 47.69,453.50 48.63,453.50 49.58,453.50 50.52,453.50 51.47,453.50 52.42,453.50 53.36,453.50 54.31,453.50 55.25,453.50 56.20,453.50 57.15,453.50 58.09,453.50 59.04,453.49 59.98,453.49 60.93,453.49 61.87,453.49 62.82,453.49 63.77,453.49 64.71,453.49 65.66,453.49 66.60,453.49 67.55,453.49 68.50,453.48 69.44,453.48 70.39,453.48 71.33,453.48 72.28,453.48 73.22,453.47 74.17,453.47 75.12,453.47 76.06,453.47 77.01,453.46 77.95,453.46 78.90,453.46 79.85,453.45 80.79,453.45 81.74,453.44 82.68,453.44 83.63,453.43 84.57,453.43 85.52,453.42 86.47,453.42 87.41,453.41 88.36,453.40 89.30,453.40 90.25,453.39 91.19,453.38 92.14,453.37 93.09,453.36 94.03,453.35 94.98,453.34 95.92,453.33 96.87,453.32 97.82,453.31 98.76,453.30 99.71,453.28 100.65,453.27 101.60,453.25 102.54,453.24 103.49,453.22 104.44,453.21 105.38,453.19 106.33,453.17 107.27,453.15 108.22,453.13 109.17,453.11 110.11,453.09 111.06,453.06 112.00,453.04 112.95,453.02 113.89,452.99 114.84,452.96 115.79,452.93 116.73,452.91 117.68,452.87 118.62,452.84 119.57,452.81 120.52,452.78 121.46,452.74 122.41,452.70 123.35,452.67 124.30,452.63 125.24,452.59 126.19,452.54 127.14,452.50 128.08,452.46 129.03,452.41 129.97,452.36 130.92,452.31 131.87,452.26 132.81,452.21 133.76,452.15 134.70,452.10 135.65,452.04 136.59,451.98 137.54,451.92 138.49,451.85 139.43,451.79 140.38,451.72 141.32,451.65 142.27,451.58 143.22,451.50 144.16,451.43 145.11,451.35 146.05,451.27 147.00,451.19 147.94,451.11 148.89,451.02 149.84,450.93 150.78,450.84 151.73,450.75 152.67,450.65 153.62,450.55 154.56,450.45 155.51,450.35 156.46,450.24 157.40,450.14 158.35,450.03 159.29,449.91 160.24,449.80 161.19,449.68 162.13,449.56 163.08,449.43 164.02,449.31 164.97,449.18 165.91,449.04 166.86,448.91 167.81,448.77 168.75,448.63 169.70,448.49 170.64,448.34 171.59,448.19 172.54,448.04 173.48,447.88 174.43,447.72 175.37,447.56 176.32,447.39 177.26,447.22 178.21,447.05 179.16,446.87 180.10,446.70 181.05,446.51 181.99,446.33 182.94,446.14 183.89,445.95 184.83,445.75 185.78,445.55 186.72,445.35 187.67,445.14 188.61,444.93 189.56,444.72 190.51,444.50 191.45,444.28 192.40,444.05 193.34,443.82 194.29,443.59 195.24,443.35 196.18,443.11 197.13,442.87 198.07,442.62 199.02,442.37 199.96,442.11 200.91,441.85 201.86,441.59 202.80,441.32 203.75,441.05 204.69,440.77 205.64,440.49 206.58,440.21 207.53,439.92 208.48,439.63 209.42,439.33 210.37,439.03 211.31,438.73 212.26,438.42 213.21,438.10 214.15,437.78 215.10,437.46 216.04,437.13 216.99,436.80 217.93,436.47 218.88,436.13 219.83,435.78 220.77,435.43 221.72,435.08 222.66,434.72 223.61,434.36 224.56,433.99 225.50,433.62 226.45,433.24 227.39,432.86 228.34,432.47 229.28,432.08 230.23,431.68 231.18,431.28 232.12,430.88 233.07,430.47 234.01,430.05 234.96,429.63 235.91,429.21 236.85,428.78 237.80,428.35 238.74,427.91 239.69,427.46 240.63,427.01 241.58,426.56 242.53,426.10 243.47,425.64 244.42,425.17 245.36,424.70 246.31,424.22 247.26,423.73 248.20,423.24 249.15,422.75 250.09,422.25 251.04,421.75 251.98,421.24 252.93,420.72 253.88,420.20 254.82,419.68 255.77,419.15 256.71,418.61 257.66,418.07 258.61,417.52 259.55,416.97 260.50,416.42 261.44,415.85 262.39,415.29 263.33,414.72 264.28,414.14 265.23,413.56 266.17,412.97 267.12,412.37 268.06,411.77 269.01,411.17 269.95,410.56 270.90,409.95 271.85,409.32 272.79,408.70 273.74,408.07 274.68,407.43 275.63,406.79 276.58,406.14 277.52,405.49 278.47,404.83 279.41,404.16 280.36,403.49 281.30,402.82 282.25,402.14 283.20,401.45 284.14,400.76 285.09,400.06 286.03,399.36 286.98,398.65 287.93,397.94 288.87,397.22 289.82,396.49 290.76,395.76 291.71,395.03 292.65,394.28 293.60,393.54 294.55,392.78 295.49,392.02 296.44,391.26 297.38,390.49 298.33,389.71 299.28,388.93 300.22,388.14 301.17,387.35 302.11,386.55 303.06,385.75 304.00,384.94 304.95,384.12 305.90,383.30 306.84,382.48 307.79,381.64 308.73,380.80 309.68,379.96 310.63,379.11 311.57,378.26 312.52,377.39 313.46,376.53 314.41,375.66 315.35,374.78 316.30,373.89" fill="none" stroke="#0e9c54" stroke-width="1.7" stroke-linejoin="round" clip-path="url(#cb)"/>
<polyline points="33.50,453.50 34.45,453.50 35.39,453.50 36.34,453.50 37.28,453.50 38.23,453.50 39.17,453.50 40.12,453.50 41.07,453.50 42.01,453.50 42.96,453.50 43.90,453.50 44.85,453.50 45.80,453.50 46.74,453.50 47.69,453.50 48.63,453.50 49.58,453.50 50.52,453.50 51.47,453.50 52.42,453.50 53.36,453.50 54.31,453.50 55.25,453.50 56.20,453.50 57.15,453.50 58.09,453.50 59.04,453.50 59.98,453.50 60.93,453.50 61.87,453.50 62.82,453.50 63.77,453.50 64.71,453.50 65.66,453.50 66.60,453.50 67.55,453.50 68.50,453.50 69.44,453.50 70.39,453.50 71.33,453.50 72.28,453.50 73.22,453.49 74.17,453.49 75.12,453.49 76.06,453.49 77.01,453.49 77.95,453.49 78.90,453.49 79.85,453.49 80.79,453.49 81.74,453.49 82.68,453.48 83.63,453.48 84.57,453.48 85.52,453.48 86.47,453.48 87.41,453.47 88.36,453.47 89.30,453.47 90.25,453.47 91.19,453.46 92.14,453.46 93.09,453.45 94.03,453.45 94.98,453.45 95.92,453.44 96.87,453.44 97.82,453.43 98.76,453.43 99.71,453.42 100.65,453.41 101.60,453.41 102.54,453.40 103.49,453.39 104.44,453.39 105.38,453.38 106.33,453.37 107.27,453.36 108.22,453.35 109.17,453.34 110.11,453.33 111.06,453.32 112.00,453.30 112.95,453.29 113.89,453.28 114.84,453.26 115.79,453.25 116.73,453.23 117.68,453.22 118.62,453.20 119.57,453.18 120.52,453.16 121.46,453.15 122.41,453.13 123.35,453.10 124.30,453.08 125.24,453.06 126.19,453.04 127.14,453.01 128.08,452.99 129.03,452.96 129.97,452.93 130.92,452.90 131.87,452.87 132.81,452.84 133.76,452.81 134.70,452.78 135.65,452.74 136.59,452.71 137.54,452.67 138.49,452.63 139.43,452.59 140.38,452.55 141.32,452.51 142.27,452.47 143.22,452.42 144.16,452.37 145.11,452.33 146.05,452.28 147.00,452.23 147.94,452.17 148.89,452.12 149.84,452.07 150.78,452.01 151.73,451.95 152.67,451.89 153.62,451.83 154.56,451.76 155.51,451.70 156.46,451.63 157.40,451.56 158.35,451.49 159.29,451.42 160.24,451.34 161.19,451.27 162.13,451.19 163.08,451.11 164.02,451.03 164.97,450.94 165.91,450.86 166.86,450.77 167.81,450.68 168.75,450.58 169.70,450.49 170.64,450.39 171.59,450.29 172.54,450.19 173.48,450.09 174.43,449.98 175.37,449.87 176.32,449.76 177.26,449.65 178.21,449.53 179.16,449.42 180.10,449.30 181.05,449.17 181.99,449.05 182.94,448.92 183.89,448.79 184.83,448.66 185.78,448.53 186.72,448.39 187.67,448.25 188.61,448.10 189.56,447.96 190.51,447.81 191.45,447.66 192.40,447.51 193.34,447.35 194.29,447.19 195.24,447.03 196.18,446.87 197.13,446.70 198.07,446.53 199.02,446.35 199.96,446.18 200.91,446.00 201.86,445.82 202.80,445.63 203.75,445.45 204.69,445.25 205.64,445.06 206.58,444.86 207.53,444.66 208.48,444.46 209.42,444.26 210.37,444.05 211.31,443.84 212.26,443.62 213.21,443.40 214.15,443.18 215.10,442.96 216.04,442.73 216.99,442.50 217.93,442.26 218.88,442.02 219.83,441.78 220.77,441.54 221.72,441.29 222.66,441.04 223.61,440.79 224.56,440.53 225.50,440.27 226.45,440.01 227.39,439.74 228.34,439.47 229.28,439.19 230.23,438.92 231.18,438.63 232.12,438.35 233.07,438.06 234.01,437.77 234.96,437.47 235.91,437.18 236.85,436.87 237.80,436.57 238.74,436.26 239.69,435.95 240.63,435.63 241.58,435.31 242.53,434.99 243.47,434.66 244.42,434.33 245.36,433.99 246.31,433.66 247.26,433.31 248.20,432.97 249.15,432.62 250.09,432.27 251.04,431.91 251.98,431.55 252.93,431.19 253.88,430.82 254.82,430.45 255.77,430.07 256.71,429.70 257.66,429.31 258.61,428.93 259.55,428.54 260.50,428.14 261.44,427.75 262.39,427.34 263.33,426.94 264.28,426.53 265.23,426.12 266.17,425.70 267.12,425.28 268.06,424.86 269.01,424.43 269.95,424.00 270.90,423.56 271.85,423.12 272.79,422.68 273.74,422.23 274.68,421.78 275.63,421.32 276.58,420.86 277.52,420.40 278.47,419.93 279.41,419.46 280.36,418.99 281.30,418.51 282.25,418.03 283.20,417.54 284.14,417.05 285.09,416.56 286.03,416.06 286.98,415.56 287.93,415.05 288.87,414.54 289.82,414.03 290.76,413.51 291.71,412.99 292.65,412.46 293.60,411.93 294.55,411.40 295.49,410.86 296.44,410.32 297.38,409.77 298.33,409.22 299.28,408.67 300.22,408.11 301.17,407.55 302.11,406.98 303.06,406.41 304.00,405.84 304.95,405.26 305.90,404.68 306.84,404.09 307.79,403.50 308.73,402.91 309.68,402.31 310.63,401.71 311.57,401.10 312.52,400.49 313.46,399.88 314.41,399.26 315.35,398.64 316.30,398.02" fill="none" stroke="#e0262b" stroke-width="1.7" stroke-linejoin="round" clip-path="url(#cb)"/>
<polyline points="33.50,453.50 34.45,453.50 35.39,453.50 36.34,453.50 37.28,453.50 38.23,453.50 39.17,453.50 40.12,453.50 41.07,453.50 42.01,453.50 42.96,453.50 43.90,453.50 44.85,453.50 45.80,453.50 46.74,453.50 47.69,453.50 48.63,453.50 49.58,453.50 50.52,453.50 51.47,453.50 52.42,453.50 53.36,453.50 54.31,453.50 55.25,453.50 56.20,453.50 57.15,453.50 58.09,453.50 59.04,453.50 59.98,453.50 60.93,453.50 61.87,453.50 62.82,453.50 63.77,453.50 64.71,453.50 65.66,453.50 66.60,453.50 67.55,453.50 68.50,453.50 69.44,453.50 70.39,453.50 71.33,453.50 72.28,453.50 73.22,453.50 74.17,453.50 75.12,453.50 76.06,453.50 77.01,453.50 77.95,453.50 78.90,453.50 79.85,453.50 80.79,453.50 81.74,453.50 82.68,453.50 83.63,453.50 84.57,453.50 85.52,453.50 86.47,453.50 87.41,453.50 88.36,453.49 89.30,453.49 90.25,453.49 91.19,453.49 92.14,453.49 93.09,453.49 94.03,453.49 94.98,453.49 95.92,453.49 96.87,453.49 97.82,453.48 98.76,453.48 99.71,453.48 100.65,453.48 101.60,453.48 102.54,453.48 103.49,453.47 104.44,453.47 105.38,453.47 106.33,453.46 107.27,453.46 108.22,453.46 109.17,453.45 110.11,453.45 111.06,453.45 112.00,453.44 112.95,453.44 113.89,453.43 114.84,453.43 115.79,453.42 116.73,453.42 117.68,453.41 118.62,453.40 119.57,453.40 120.52,453.39 121.46,453.38 122.41,453.37 123.35,453.37 124.30,453.36 125.24,453.35 126.19,453.34 127.14,453.33 128.08,453.32 129.03,453.31 129.97,453.29 130.92,453.28 131.87,453.27 132.81,453.25 133.76,453.24 134.70,453.23 135.65,453.21 136.59,453.19 137.54,453.18 138.49,453.16 139.43,453.14 140.38,453.12 141.32,453.10 142.27,453.08 143.22,453.06 144.16,453.04 145.11,453.02 146.05,452.99 147.00,452.97 147.94,452.94 148.89,452.92 149.84,452.89 150.78,452.86 151.73,452.83 152.67,452.80 153.62,452.77 154.56,452.74 155.51,452.70 156.46,452.67 157.40,452.63 158.35,452.60 159.29,452.56 160.24,452.52 161.19,452.48 162.13,452.44 163.08,452.40 164.02,452.35 164.97,452.31 165.91,452.26 166.86,452.21 167.81,452.16 168.75,452.11 169.70,452.06 170.64,452.01 171.59,451.95 172.54,451.90 173.48,451.84 174.43,451.78 175.37,451.72 176.32,451.66 177.26,451.60 178.21,451.53 179.16,451.46 180.10,451.40 181.05,451.33 181.99,451.25 182.94,451.18 183.89,451.11 184.83,451.03 185.78,450.95 186.72,450.87 187.67,450.79 188.61,450.71 189.56,450.62 190.51,450.53 191.45,450.44 192.40,450.35 193.34,450.26 194.29,450.17 195.24,450.07 196.18,449.97 197.13,449.87 198.07,449.77 199.02,449.66 199.96,449.56 200.91,449.45 201.86,449.34 202.80,449.23 203.75,449.11 204.69,449.00 205.64,448.88 206.58,448.76 207.53,448.63 208.48,448.51 209.42,448.38 210.37,448.25 211.31,448.12 212.26,447.98 213.21,447.85 214.15,447.71 215.10,447.57 216.04,447.43 216.99,447.28 217.93,447.13 218.88,446.98 219.83,446.83 220.77,446.68 221.72,446.52 222.66,446.36 223.61,446.20 224.56,446.03 225.50,445.86 226.45,445.70 227.39,445.52 228.34,445.35 229.28,445.17 230.23,444.99 231.18,444.81 232.12,444.63 233.07,444.44 234.01,444.25 234.96,444.06 235.91,443.86 236.85,443.66 237.80,443.46 238.74,443.26 239.69,443.06 240.63,442.85 241.58,442.64 242.53,442.42 243.47,442.21 244.42,441.99 245.36,441.77 246.31,441.54 247.26,441.32 248.20,441.09 249.15,440.86 250.09,440.62 251.04,440.38 251.98,440.14 252.93,439.90 253.88,439.65 254.82,439.40 255.77,439.15 256.71,438.89 257.66,438.64 258.61,438.38 259.55,438.11 260.50,437.85 261.44,437.58 262.39,437.30 263.33,437.03 264.28,436.75 265.23,436.47 266.17,436.19 267.12,435.90 268.06,435.61 269.01,435.32 269.95,435.02 270.90,434.72 271.85,434.42 272.79,434.12 273.74,433.81 274.68,433.50 275.63,433.19 276.58,432.87 277.52,432.55 278.47,432.23 279.41,431.90 280.36,431.57 281.30,431.24 282.25,430.91 283.20,430.57 284.14,430.23 285.09,429.88 286.03,429.54 286.98,429.19 287.93,428.83 288.87,428.48 289.82,428.12 290.76,427.76 291.71,427.39 292.65,427.02 293.60,426.65 294.55,426.28 295.49,425.90 296.44,425.52 297.38,425.13 298.33,424.74 299.28,424.35 300.22,423.96 301.17,423.56 302.11,423.16 303.06,422.76 304.00,422.36 304.95,421.95 305.90,421.53 306.84,421.12 307.79,420.70 308.73,420.28 309.68,419.85 310.63,419.42 311.57,418.99 312.52,418.56 313.46,418.12 314.41,417.68 315.35,417.24 316.30,416.79" fill="none" stroke="#f2882b" stroke-width="1.7" stroke-linejoin="round" clip-path="url(#cb)"/>
<polyline points="379.50,453.00 380.06,453.00 380.62,453.00 381.18,453.00 381.73,453.00 382.29,453.00 382.85,453.00 383.41,453.00 383.97,453.00 384.53,453.00 385.09,453.00 385.64,453.00 386.20,453.00 386.76,453.00 387.32,453.00 387.88,453.00 388.44,453.00 389.00,453.00 389.56,453.00 390.11,453.00 390.67,453.00 391.23,453.00 391.79,453.00 392.35,453.00 392.91,453.00 393.47,453.00 394.02,453.00 394.58,453.00 395.14,452.96 395.70,452.89 396.26,452.80 396.82,452.71 397.38,452.61 397.93,452.51 398.49,452.40 399.05,452.29 399.61,452.17 400.17,452.05 400.73,451.92 401.29,451.78 401.85,451.64 402.40,451.49 402.96,451.34 403.52,451.18 404.08,451.02 404.64,450.85 405.20,450.67 405.76,450.49 406.31,450.30 406.87,450.11 407.43,449.91 407.99,449.70 408.55,449.49 409.11,449.28 409.67,449.05 410.22,448.82 410.78,448.59 411.34,448.35 411.90,448.10 412.46,447.85 413.02,447.59 413.58,447.33 414.13,447.05 414.69,446.78 415.25,446.49 415.81,446.21 416.37,445.91 416.93,445.61 417.49,445.30 418.05,444.99 418.60,444.67 419.16,444.34 419.72,444.01 420.28,443.67 420.84,443.33 421.40,442.98 421.96,442.62 422.51,442.26 423.07,441.89 423.63,441.51 424.19,441.13 424.75,440.74 425.31,440.34 425.87,439.94 426.42,439.53 426.98,439.12 427.54,438.70 428.10,438.27 428.66,437.84 429.22,437.40 429.78,436.95 430.33,436.50 430.89,436.04 431.45,435.57 432.01,435.10 432.57,434.62 433.13,434.13 433.69,433.64 434.25,433.14 434.80,432.64 435.36,432.12 435.92,431.60 436.48,431.08 437.04,430.55 437.60,430.01 438.16,429.46 438.71,428.91 439.27,428.35 439.83,427.78 440.39,427.21 440.95,426.63 441.51,426.04 442.07,425.45 442.62,424.85 443.18,424.24 443.74,423.63 444.30,423.01 444.86,422.38 445.42,421.75 445.98,421.10 446.54,420.46 447.09,419.80 447.65,419.14 448.21,418.47 448.77,417.79 449.33,417.11 449.89,416.42 450.45,415.72 451.00,415.02 451.56,414.30 452.12,413.58 452.68,412.86 453.24,412.12 453.80,411.39 454.36,410.64 454.91,409.88 455.47,409.12 456.03,408.36 456.59,407.58 457.15,406.80 457.71,406.02 458.27,405.23 458.82,404.43 459.38,403.62 459.94,402.81 460.50,401.99 461.06,401.17 461.62,400.34 462.18,399.51 462.74,398.67 463.29,397.82 463.85,396.97 464.41,396.11 464.97,395.25 465.53,394.38 466.09,393.51 466.65,392.63 467.20,391.75 467.76,390.86 468.32,389.97 468.88,389.07 469.44,388.17 470.00,387.26 470.56,386.34 471.11,385.43 471.67,384.51 472.23,383.58 472.79,382.65 473.35,381.71 473.91,380.77 474.47,379.83 475.02,378.88 475.58,377.93 476.14,376.98 476.70,376.02 477.26,375.05 477.82,374.08 478.38,373.11 478.94,372.14 479.49,371.16 480.05,370.18 480.61,369.20 481.17,368.21 481.73,367.22 482.29,366.22 482.85,365.22 483.40,364.22 483.96,363.22 484.52,362.21 485.08,361.20 485.64,360.19 486.20,359.18 486.76,358.16 487.31,357.14 487.87,356.12 488.43,355.09 488.99,354.07 489.55,353.04 490.11,352.00 490.67,350.97 491.23,349.94 491.78,348.90 492.34,347.86 492.90,346.82 493.46,345.78 494.02,344.73 494.58,343.69 495.14,342.64 495.69,341.59 496.25,340.54 496.81,339.49 497.37,338.44 497.93,337.38 498.49,336.33 499.05,335.27 499.60,334.21 500.16,333.16 500.72,332.10 501.28,331.04 501.84,329.98 502.40,328.92 502.96,327.86 503.51,326.80 504.07,325.74 504.63,324.68 505.19,323.61 505.75,322.55 506.31,321.49 506.87,320.43 507.43,319.37 507.98,318.30 508.54,317.24 509.10,316.18 509.66,315.12 510.22,314.05 510.78,312.99 511.34,311.93 511.89,310.87 512.45,309.80 513.01,308.74 513.57,307.68 514.13,306.62 514.69,305.55 515.25,304.49 515.80,303.43 516.36,302.37 516.92,301.31 517.48,300.24 518.04,299.18 518.60,298.12 519.16,297.06 519.71,296.00 520.27,294.94 520.83,293.88 521.39,292.82 521.95,291.76 522.51,290.70 523.07,289.64 523.63,288.58 524.18,287.52 524.74,286.46 525.30,285.40 525.86,284.34 526.42,283.29 526.98,282.23 527.54,281.17 528.09,280.12 528.65,279.06 529.21,278.01 529.77,276.95 530.33,275.90 530.89,274.84 531.45,273.79 532.00,272.74 532.56,271.69 533.12,270.63 533.68,269.58 534.24,268.53 534.80,267.48 535.36,266.43 535.92,265.39 536.47,264.34 537.03,263.29 537.59,262.24 538.15,261.20 538.71,260.15 539.27,259.11 539.83,258.07 540.38,257.02 540.94,255.98 541.50,254.94 542.06,253.90 542.62,252.86 543.18,251.82 543.74,250.78 544.29,249.74 544.85,248.71 545.41,247.67 545.97,246.64 546.53,245.60" fill="none" stroke="#1c1a1b" stroke-width="1.7" stroke-linejoin="round" clip-path="url(#cc)"/>
<polyline points="379.50,452.75 380.39,452.75 381.28,452.75 382.17,452.75 383.06,452.75 383.95,452.75 384.84,452.75 385.73,452.75 386.62,452.75 387.51,452.75 388.40,452.75 389.29,452.75 390.18,452.75 391.07,452.75 391.96,452.75 392.85,452.75 393.74,452.75 394.63,452.75 395.52,452.75 396.41,452.75 397.30,452.75 398.19,452.75 399.08,452.75 399.97,452.75 400.86,452.75 401.75,452.75 402.64,452.75 403.53,452.75 404.42,452.75 405.31,452.75 406.20,452.75 407.09,452.75 407.98,452.75 408.87,452.75 409.76,452.75 410.65,452.75 411.54,452.75 412.43,452.75 413.32,452.75 414.21,452.75 415.10,452.75 415.99,452.75 416.88,452.63 417.77,452.50 418.66,452.36 419.55,452.22 420.44,452.08 421.33,451.92 422.22,451.76 423.11,451.60 424.00,451.42 424.89,451.24 425.78,451.06 426.67,450.86 427.56,450.66 428.45,450.46 429.34,450.24 430.23,450.02 431.12,449.79 432.01,449.56 432.90,449.32 433.79,449.07 434.68,448.82 435.57,448.55 436.46,448.28 437.35,448.01 438.24,447.72 439.13,447.43 440.02,447.14 440.91,446.83 441.80,446.52 442.69,446.20 443.58,445.87 444.47,445.54 445.36,445.20 446.25,444.85 447.14,444.49 448.03,444.13 448.92,443.76 449.81,443.38 450.70,443.00 451.59,442.61 452.48,442.21 453.37,441.80 454.26,441.39 455.15,440.97 456.04,440.54 456.93,440.10 457.82,439.66 458.71,439.21 459.60,438.76 460.49,438.29 461.38,437.82 462.27,437.34 463.16,436.86 464.05,436.37 464.94,435.87 465.83,435.36 466.72,434.85 467.61,434.33 468.50,433.80 469.39,433.26 470.28,432.72 471.17,432.17 472.06,431.61 472.95,431.05 473.84,430.48 474.73,429.90 475.62,429.31 476.51,428.72 477.40,428.12 478.29,427.51 479.18,426.90 480.07,426.28 480.96,425.65 481.85,425.02 482.74,424.37 483.63,423.72 484.52,423.07 485.41,422.40 486.30,421.73 487.19,421.05 488.08,420.37 488.97,419.67 489.86,418.97 490.75,418.27 491.64,417.55 492.53,416.83 493.42,416.10 494.31,415.37 495.20,414.63 496.09,413.88 496.98,413.12 497.87,412.36 498.76,411.59 499.65,410.81 500.54,410.03 501.43,409.24 502.32,408.45 503.21,407.64 504.10,406.84 504.99,406.02 505.88,405.20 506.77,404.38 507.66,403.54 508.55,402.71 509.44,401.86 510.33,401.01 511.22,400.16 512.11,399.29 513.00,398.43 513.89,397.55 514.78,396.68 515.67,395.79 516.56,394.90 517.45,394.01 518.34,393.11 519.23,392.21 520.12,391.30 521.01,390.38 521.90,389.46 522.79,388.54 523.68,387.61 524.57,386.68 525.46,385.74 526.35,384.79 527.24,383.85 528.13,382.90 529.02,381.94 529.91,380.98 530.80,380.01 531.69,379.04 532.58,378.07 533.47,377.09 534.36,376.11 535.25,375.13 536.14,374.14 537.03,373.15 537.92,372.15 538.81,371.15 539.70,370.14 540.59,369.14 541.48,368.13 542.37,367.11 543.26,366.10 544.15,365.07 545.04,364.05 545.93,363.02 546.82,361.99 547.71,360.96 548.60,359.93 549.49,358.89 550.38,357.84 551.27,356.80 552.16,355.75 553.05,354.70 553.94,353.65 554.83,352.60 555.72,351.54 556.61,350.48 557.50,349.42 558.39,348.36 559.28,347.29 560.17,346.23 561.06,345.16 561.95,344.08 562.84,343.01 563.73,341.94 564.62,340.86 565.51,339.78 566.40,338.70 567.29,337.62 568.18,336.54 569.07,335.45 569.96,334.37 570.85,333.28 571.74,332.19 572.63,331.11 573.52,330.02 574.41,328.92 575.30,327.83 576.19,326.74 577.08,325.65 577.97,324.55 578.86,323.46 579.75,322.36 580.64,321.27 581.53,320.17 582.42,319.08 583.31,317.98 584.20,316.88 585.09,315.79 585.98,314.69 586.87,313.59 587.76,312.49 588.65,311.40 589.54,310.30 590.43,309.20 591.32,308.11 592.21,307.01 593.10,305.92 593.99,304.82 594.88,303.73 595.77,302.64 596.66,301.54 597.55,300.45 598.44,299.36 599.33,298.27 600.22,297.18 601.11,296.09 602.00,295.01 602.89,293.92 603.78,292.84 604.67,291.75 605.56,290.67 606.45,289.59 607.34,288.51 608.23,287.44 609.12,286.36 610.01,285.29 610.90,284.21 611.79,283.14 612.68,282.08 613.57,281.01 614.46,279.95 615.35,278.89 616.24,277.83 617.13,276.77 618.02,275.71 618.91,274.66 619.80,273.61 620.69,272.56 621.58,271.52 622.47,270.48 623.36,269.44 624.25,268.40 625.14,267.37 626.03,266.34 626.92,265.31 627.81,264.29 628.70,263.26 629.59,262.25 630.48,261.23 631.37,260.22 632.26,259.21 633.15,258.21 634.04,257.21 634.93,256.21 635.82,255.22 636.71,254.23 637.60,253.24 638.49,252.26 639.38,251.28 640.27,250.30 641.16,249.33 642.05,248.37 642.94,247.41 643.83,246.45 644.72,245.50 645.61,244.55" fill="none" stroke="#1ba3da" stroke-width="1.7" stroke-linejoin="round" clip-path="url(#cc)"/>
<polyline points="379.50,453.12 380.45,453.12 381.39,453.12 382.34,453.12 383.29,453.12 384.23,453.12 385.18,453.12 386.13,453.12 387.07,453.12 388.02,453.12 388.97,453.12 389.92,453.12 390.86,453.12 391.81,453.12 392.76,453.12 393.70,453.12 394.65,453.12 395.60,453.12 396.54,453.12 397.49,453.12 398.44,453.12 399.38,453.12 400.33,453.12 401.28,453.12 402.22,453.12 403.17,453.12 404.12,453.12 405.06,453.12 406.01,453.12 406.96,453.12 407.90,453.12 408.85,453.12 409.80,453.12 410.75,453.12 411.69,453.12 412.64,453.12 413.59,453.12 414.53,453.12 415.48,453.12 416.43,453.12 417.37,453.12 418.32,453.12 419.27,453.12 420.21,453.12 421.16,453.12 422.11,453.12 423.05,453.12 424.00,453.12 424.95,453.12 425.89,453.12 426.84,453.12 427.79,453.12 428.73,453.12 429.68,453.12 430.63,453.12 431.58,453.12 432.52,453.12 433.47,453.12 434.42,453.12 435.36,453.12 436.31,453.12 437.26,453.12 438.20,453.12 439.15,453.12 440.10,453.12 441.04,453.12 441.99,453.12 442.94,453.12 443.88,453.12 444.83,453.12 445.78,453.12 446.72,453.12 447.67,453.12 448.62,453.12 449.56,453.12 450.51,453.10 451.46,453.01 452.41,452.93 453.35,452.84 454.30,452.75 455.25,452.66 456.19,452.56 457.14,452.47 458.09,452.37 459.03,452.27 459.98,452.17 460.93,452.06 461.87,451.95 462.82,451.84 463.77,451.73 464.71,451.62 465.66,451.50 466.61,451.38 467.55,451.26 468.50,451.14 469.45,451.01 470.39,450.88 471.34,450.76 472.29,450.62 473.24,450.49 474.18,450.35 475.13,450.21 476.08,450.07 477.02,449.93 477.97,449.78 478.92,449.64 479.86,449.49 480.81,449.33 481.76,449.18 482.70,449.02 483.65,448.86 484.60,448.70 485.54,448.54 486.49,448.37 487.44,448.20 488.38,448.03 489.33,447.86 490.28,447.69 491.23,447.51 492.17,447.33 493.12,447.15 494.07,446.96 495.01,446.78 495.96,446.59 496.91,446.40 497.85,446.20 498.80,446.01 499.75,445.81 500.69,445.61 501.64,445.41 502.59,445.20 503.53,445.00 504.48,444.79 505.43,444.58 506.37,444.36 507.32,444.15 508.27,443.93 509.21,443.71 510.16,443.49 511.11,443.26 512.06,443.03 513.00,442.80 513.95,442.57 514.90,442.34 515.84,442.10 516.79,441.86 517.74,441.62 518.68,441.38 519.63,441.13 520.58,440.88 521.52,440.63 522.47,440.38 523.42,440.12 524.36,439.87 525.31,439.61 526.26,439.34 527.20,439.08 528.15,438.81 529.10,438.54 530.04,438.27 530.99,438.00 531.94,437.72 532.89,437.44 533.83,437.16 534.78,436.88 535.73,436.59 536.67,436.31 537.62,436.02 538.57,435.72 539.51,435.43 540.46,435.13 541.41,434.83 542.35,434.53 543.30,434.23 544.25,433.92 545.19,433.61 546.14,433.30 547.09,432.99 548.03,432.67 548.98,432.35 549.93,432.03 550.87,431.71 551.82,431.38 552.77,431.06 553.72,430.73 554.66,430.39 555.61,430.06 556.56,429.72 557.50,429.38 558.45,429.04 559.40,428.70 560.34,428.35 561.29,428.00 562.24,427.65 563.18,427.30 564.13,426.94 565.08,426.58 566.02,426.22 566.97,425.86 567.92,425.49 568.86,425.13 569.81,424.75 570.76,424.38 571.71,424.01 572.65,423.63 573.60,423.25 574.55,422.87 575.49,422.48 576.44,422.10 577.39,421.71 578.33,421.31 579.28,420.92 580.23,420.52 581.17,420.13 582.12,419.72 583.07,419.32 584.01,418.91 584.96,418.51 585.91,418.09 586.85,417.68 587.80,417.26 588.75,416.85 589.69,416.43 590.64,416.00 591.59,415.58 592.54,415.15 593.48,414.72 594.43,414.29 595.38,413.85 596.32,413.41 597.27,412.97 598.22,412.53 599.16,412.09 600.11,411.64 601.06,411.19 602.00,410.74 602.95,410.28 603.90,409.83 604.84,409.37 605.79,408.91 606.74,408.44 607.68,407.97 608.63,407.51 609.58,407.03 610.52,406.56 611.47,406.08 612.42,405.60 613.37,405.12 614.31,404.64 615.26,404.15 616.21,403.66 617.15,403.17 618.10,402.68 619.05,402.18 619.99,401.69 620.94,401.18 621.89,400.68 622.83,400.18 623.78,399.67 624.73,399.16 625.67,398.64 626.62,398.13 627.57,397.61 628.51,397.09 629.46,396.57 630.41,396.04 631.35,395.51 632.30,394.98 633.25,394.45 634.20,393.91 635.14,393.37 636.09,392.83 637.04,392.29 637.98,391.75 638.93,391.20 639.88,390.65 640.82,390.09 641.77,389.54 642.72,388.98 643.66,388.42 644.61,387.86 645.56,387.29 646.50,386.73 647.45,386.16 648.40,385.58 649.34,385.01 650.29,384.43 651.24,383.85 652.18,383.27 653.13,382.68 654.08,382.09 655.03,381.50 655.97,380.91 656.92,380.32 657.87,379.72 658.81,379.12 659.76,378.51 660.71,377.91 661.65,377.30 662.60,376.69" fill="none" stroke="#0e9c54" stroke-width="1.7" stroke-linejoin="round" clip-path="url(#cc)"/>
<polyline points="379.50,453.48 380.45,453.48 381.39,453.48 382.34,453.48 383.29,453.48 384.23,453.48 385.18,453.48 386.13,453.48 387.07,453.48 388.02,453.48 388.97,453.48 389.92,453.48 390.86,453.48 391.81,453.48 392.76,453.48 393.70,453.48 394.65,453.48 395.60,453.48 396.54,453.48 397.49,453.48 398.44,453.48 399.38,453.48 400.33,453.48 401.28,453.48 402.22,453.48 403.17,453.48 404.12,453.48 405.06,453.48 406.01,453.48 406.96,453.48 407.90,453.48 408.85,453.48 409.80,453.48 410.75,453.48 411.69,453.48 412.64,453.48 413.59,453.48 414.53,453.48 415.48,453.48 416.43,453.48 417.37,453.48 418.32,453.48 419.27,453.48 420.21,453.48 421.16,453.48 422.11,453.48 423.05,453.48 424.00,453.48 424.95,453.48 425.89,453.48 426.84,453.48 427.79,453.48 428.73,453.48 429.68,453.48 430.63,453.48 431.58,453.48 432.52,453.48 433.47,453.48 434.42,453.48 435.36,453.48 436.31,453.48 437.26,453.48 438.20,453.48 439.15,453.48 440.10,453.48 441.04,453.48 441.99,453.48 442.94,453.48 443.88,453.48 444.83,453.48 445.78,453.48 446.72,453.48 447.67,453.48 448.62,453.48 449.56,453.48 450.51,453.48 451.46,453.48 452.41,453.48 453.35,453.48 454.30,453.48 455.25,453.48 456.19,453.48 457.14,453.48 458.09,453.48 459.03,453.48 459.98,453.48 460.93,453.48 461.87,453.48 462.82,453.48 463.77,453.48 464.71,453.48 465.66,453.48 466.61,453.48 467.55,453.48 468.50,453.48 469.45,453.48 470.39,453.48 471.34,453.48 472.29,453.48 473.24,453.48 474.18,453.48 475.13,453.48 476.08,453.48 477.02,453.48 477.97,453.48 478.92,453.48 479.86,453.48 480.81,453.48 481.76,453.48 482.70,453.48 483.65,453.47 484.60,453.44 485.54,453.41 486.49,453.38 487.44,453.35 488.38,453.32 489.33,453.29 490.28,453.25 491.23,453.22 492.17,453.19 493.12,453.15 494.07,453.12 495.01,453.08 495.96,453.04 496.91,453.01 497.85,452.97 498.80,452.93 499.75,452.89 500.69,452.85 501.64,452.81 502.59,452.77 503.53,452.73 504.48,452.69 505.43,452.65 506.37,452.61 507.32,452.57 508.27,452.52 509.21,452.48 510.16,452.43 511.11,452.39 512.06,452.34 513.00,452.30 513.95,452.25 514.90,452.20 515.84,452.16 516.79,452.11 517.74,452.06 518.68,452.01 519.63,451.96 520.58,451.91 521.52,451.86 522.47,451.81 523.42,451.76 524.36,451.70 525.31,451.65 526.26,451.60 527.20,451.54 528.15,451.49 529.10,451.43 530.04,451.38 530.99,451.32 531.94,451.26 532.89,451.21 533.83,451.15 534.78,451.09 535.73,451.03 536.67,450.97 537.62,450.91 538.57,450.85 539.51,450.79 540.46,450.73 541.41,450.67 542.35,450.61 543.30,450.54 544.25,450.48 545.19,450.41 546.14,450.35 547.09,450.28 548.03,450.22 548.98,450.15 549.93,450.09 550.87,450.02 551.82,449.95 552.77,449.88 553.72,449.81 554.66,449.74 555.61,449.67 556.56,449.60 557.50,449.53 558.45,449.46 559.40,449.39 560.34,449.31 561.29,449.24 562.24,449.17 563.18,449.09 564.13,449.02 565.08,448.94 566.02,448.87 566.97,448.79 567.92,448.71 568.86,448.64 569.81,448.56 570.76,448.48 571.71,448.40 572.65,448.32 573.60,448.24 574.55,448.16 575.49,448.08 576.44,448.00 577.39,447.91 578.33,447.83 579.28,447.75 580.23,447.66 581.17,447.58 582.12,447.49 583.07,447.41 584.01,447.32 584.96,447.24 585.91,447.15 586.85,447.06 587.80,446.97 588.75,446.88 589.69,446.79 590.64,446.70 591.59,446.61 592.54,446.52 593.48,446.43 594.43,446.34 595.38,446.25 596.32,446.15 597.27,446.06 598.22,445.97 599.16,445.87 600.11,445.78 601.06,445.68 602.00,445.58 602.95,445.49 603.90,445.39 604.84,445.29 605.79,445.19 606.74,445.10 607.68,445.00 608.63,444.90 609.58,444.80 610.52,444.69 611.47,444.59 612.42,444.49 613.37,444.39 614.31,444.28 615.26,444.18 616.21,444.08 617.15,443.97 618.10,443.87 619.05,443.76 619.99,443.65 620.94,443.55 621.89,443.44 622.83,443.33 623.78,443.22 624.73,443.12 625.67,443.01 626.62,442.90 627.57,442.78 628.51,442.67 629.46,442.56 630.41,442.45 631.35,442.34 632.30,442.22 633.25,442.11 634.20,442.00 635.14,441.88 636.09,441.77 637.04,441.65 637.98,441.53 638.93,441.42 639.88,441.30 640.82,441.18 641.77,441.06 642.72,440.94 643.66,440.82 644.61,440.70 645.56,440.58 646.50,440.46 647.45,440.34 648.40,440.22 649.34,440.09 650.29,439.97 651.24,439.85 652.18,439.72 653.13,439.60 654.08,439.47 655.03,439.35 655.97,439.22 656.92,439.09 657.87,438.96 658.81,438.84 659.76,438.71 660.71,438.58 661.65,438.45 662.60,438.32" fill="none" stroke="#e0262b" stroke-width="1.7" stroke-linejoin="round" clip-path="url(#cc)"/>
<polyline points="379.50,453.60 380.45,453.60 381.39,453.60 382.34,453.60 383.29,453.60 384.23,453.60 385.18,453.60 386.13,453.60 387.07,453.60 388.02,453.60 388.97,453.60 389.92,453.60 390.86,453.60 391.81,453.60 392.76,453.60 393.70,453.60 394.65,453.60 395.60,453.60 396.54,453.60 397.49,453.60 398.44,453.60 399.38,453.60 400.33,453.60 401.28,453.60 402.22,453.60 403.17,453.60 404.12,453.60 405.06,453.60 406.01,453.60 406.96,453.60 407.90,453.60 408.85,453.60 409.80,453.60 410.75,453.60 411.69,453.60 412.64,453.60 413.59,453.60 414.53,453.60 415.48,453.60 416.43,453.60 417.37,453.60 418.32,453.60 419.27,453.60 420.21,453.60 421.16,453.60 422.11,453.60 423.05,453.60 424.00,453.60 424.95,453.60 425.89,453.60 426.84,453.60 427.79,453.60 428.73,453.60 429.68,453.60 430.63,453.60 431.58,453.60 432.52,453.60 433.47,453.60 434.42,453.60 435.36,453.60 436.31,453.60 437.26,453.60 438.20,453.60 439.15,453.60 440.10,453.60 441.04,453.60 441.99,453.60 442.94,453.60 443.88,453.60 444.83,453.60 445.78,453.60 446.72,453.60 447.67,453.60 448.62,453.60 449.56,453.60 450.51,453.60 451.46,453.60 452.41,453.60 453.35,453.59 454.30,453.59 455.25,453.59 456.19,453.59 457.14,453.59 458.09,453.59 459.03,453.59 459.98,453.59 460.93,453.59 461.87,453.59 462.82,453.59 463.77,453.59 464.71,453.58 465.66,453.58 466.61,453.58 467.55,453.58 468.50,453.58 469.45,453.58 470.39,453.58 471.34,453.58 472.29,453.57 473.24,453.57 474.18,453.57 475.13,453.57 476.08,453.57 477.02,453.57 477.97,453.56 478.92,453.56 479.86,453.56 480.81,453.56 481.76,453.56 482.70,453.55 483.65,453.55 484.60,453.55 485.54,453.55 486.49,453.55 487.44,453.54 488.38,453.54 489.33,453.54 490.28,453.54 491.23,453.53 492.17,453.53 493.12,453.53 494.07,453.53 495.01,453.52 495.96,453.52 496.91,453.52 497.85,453.51 498.80,453.51 499.75,453.51 500.69,453.51 501.64,453.50 502.59,453.50 503.53,453.50 504.48,453.49 505.43,453.49 506.37,453.49 507.32,453.48 508.27,453.48 509.21,453.48 510.16,453.47 511.11,453.47 512.06,453.47 513.00,453.46 513.95,453.46 514.90,453.45 515.84,453.45 516.79,453.45 517.74,453.44 518.68,453.44 519.63,453.43 520.58,453.43 521.52,453.43 522.47,453.42 523.42,453.42 524.36,453.41 525.31,453.41 526.26,453.40 527.20,453.40 528.15,453.40 529.10,453.39 530.04,453.39 530.99,453.38 531.94,453.38 532.89,453.37 533.83,453.37 534.78,453.36 535.73,453.36 536.67,453.35 537.62,453.35 538.57,453.34 539.51,453.34 540.46,453.33 541.41,453.32 542.35,453.32 543.30,453.31 544.25,453.31 545.19,453.30 546.14,453.30 547.09,453.29 548.03,453.29 548.98,453.28 549.93,453.27 550.87,453.27 551.82,453.26 552.77,453.26 553.72,453.25 554.66,453.24 555.61,453.24 556.56,453.23 557.50,453.22 558.45,453.22 559.40,453.21 560.34,453.20 561.29,453.20 562.24,453.19 563.18,453.18 564.13,453.18 565.08,453.17 566.02,453.16 566.97,453.16 567.92,453.15 568.86,453.14 569.81,453.13 570.76,453.13 571.71,453.12 572.65,453.11 573.60,453.11 574.55,453.10 575.49,453.09 576.44,453.08 577.39,453.07 578.33,453.07 579.28,453.06 580.23,453.05 581.17,453.04 582.12,453.04 583.07,453.03 584.01,453.02 584.96,453.01 585.91,453.00 586.85,452.99 587.80,452.99 588.75,452.98 589.69,452.97 590.64,452.96 591.59,452.95 592.54,452.94 593.48,452.93 594.43,452.92 595.38,452.92 596.32,452.91 597.27,452.90 598.22,452.89 599.16,452.88 600.11,452.87 601.06,452.86 602.00,452.85 602.95,452.84 603.90,452.83 604.84,452.82 605.79,452.81 606.74,452.80 607.68,452.79 608.63,452.78 609.58,452.77 610.52,452.76 611.47,452.75 612.42,452.74 613.37,452.73 614.31,452.72 615.26,452.71 616.21,452.70 617.15,452.69 618.10,452.68 619.05,452.67 619.99,452.66 620.94,452.65 621.89,452.64 622.83,452.63 623.78,452.62 624.73,452.61 625.67,452.60 626.62,452.59 627.57,452.57 628.51,452.56 629.46,452.55 630.41,452.54 631.35,452.53 632.30,452.52 633.25,452.51 634.20,452.49 635.14,452.48 636.09,452.47 637.04,452.46 637.98,452.45 638.93,452.44 639.88,452.42 640.82,452.41 641.77,452.40 642.72,452.39 643.66,452.38 644.61,452.36 645.56,452.35 646.50,452.34 647.45,452.33 648.40,452.31 649.34,452.30 650.29,452.29 651.24,452.27 652.18,452.26 653.13,452.25 654.08,452.24 655.03,452.22 655.97,452.21 656.92,452.20 657.87,452.18 658.81,452.17 659.76,452.16 660.71,452.14 661.65,452.13 662.60,452.12" fill="none" stroke="#c852a6" stroke-width="1.7" stroke-linejoin="round" clip-path="url(#cc)"/>
<polyline points="32.30,664.21 33.72,664.34 35.15,664.48 36.57,664.62 37.99,664.77 39.41,664.92 40.84,665.08 42.26,665.24 43.68,665.41 45.10,665.58 46.53,665.76 47.95,665.94 49.37,666.13 50.79,666.32 52.22,666.51 53.64,666.70 55.06,666.90 56.48,667.11 57.91,667.31 59.33,667.52 60.75,667.74 62.17,667.95 63.60,668.17 65.02,668.40 66.44,668.62 67.87,668.85 69.29,669.08 70.71,669.31 72.13,669.54 73.56,669.78 74.98,670.02 76.40,670.26 77.82,670.50 79.25,670.74 80.67,670.99 82.09,671.23 83.51,671.48 84.94,671.73 86.36,671.98 87.78,672.23 89.20,672.48 90.63,672.73 92.05,672.99 93.47,673.24 94.89,673.50 96.32,673.75 97.74,674.01 99.16,674.27 100.59,674.52 102.01,674.78 103.43,675.04 104.85,675.29 106.28,675.55 107.70,675.81 109.12,676.06 110.54,676.32 111.97,676.58 113.39,676.83 114.81,677.09 116.23,677.34 117.66,677.60 119.08,677.85 120.50,678.10 121.92,678.36 123.35,678.61 124.77,678.86 126.19,679.11 127.62,679.35 129.04,679.60 130.46,679.85 131.88,680.09 133.31,680.33 134.73,680.58 136.15,680.82 137.57,681.06 139.00,681.29 140.42,681.53 141.84,681.76 143.26,682.00 144.69,682.23 146.11,682.46 147.53,682.69 148.95,682.91 150.38,683.14 151.80,683.36 153.22,683.58 154.64,683.80 156.07,684.01 157.49,684.23 158.91,684.44 160.34,684.65 161.76,684.86 163.18,685.07 164.60,685.27 166.03,685.47 167.45,685.67 168.87,685.87 170.29,686.07 171.72,686.26 173.14,686.45 174.56,686.64 175.98,686.83 177.41,687.01 178.83,687.19 180.25,687.37 181.67,687.55 183.10,687.73 184.52,687.90 185.94,688.07 187.36,688.24 188.79,688.40 190.21,688.57 191.63,688.73 193.06,688.89 194.48,689.04 195.90,689.20 197.32,689.35 198.75,689.50 200.17,689.65 201.59,689.79 203.01,689.93 204.44,690.08 205.86,690.21 207.28,690.35 208.70,690.48 210.13,690.61 211.55,690.74 212.97,690.87 214.39,691.00 215.82,691.12 217.24,691.24 218.66,691.36 220.08,691.47 221.51,691.59 222.93,691.70 224.35,691.81 225.78,691.92 227.20,692.03 228.62,692.13 230.04,692.24 231.47,692.34 232.89,692.44 234.31,692.53 235.73,692.63 237.16,692.72 238.58,692.82 240.00,692.91 241.42,693.00 242.85,693.09 244.27,693.17 245.69,693.26 247.11,693.34 248.54,693.43 249.96,693.51 251.38,693.59 252.81,693.67 254.23,693.75 255.65,693.82 257.07,693.90 258.50,693.98 259.92,694.05 261.34,694.13 262.76,694.20 264.19,694.27 265.61,694.35 267.03,694.42 268.45,694.49 269.88,694.56 271.30,694.63 272.72,694.70 274.14,694.77 275.57,694.84 276.99,694.92 278.41,694.99 279.83,695.06 281.26,695.13 282.68,695.20 284.10,695.27 285.53,695.35 286.95,695.42 288.37,695.49 289.79,695.57 291.22,695.65 292.64,695.72 294.06,695.80 295.48,695.88 296.91,695.96 298.33,696.04 299.75,696.13 301.17,696.21 302.60,696.30 304.02,696.39 305.44,696.48 306.86,696.57 308.29,696.67 309.71,696.76 311.13,696.86 312.55,696.96 313.98,697.07 315.40,697.18" fill="none" stroke="#1ba3da" stroke-width="1.7" stroke-linejoin="round" clip-path="url(#cd)"/>
<polyline points="32.30,605.66 33.72,606.09 35.15,606.52 36.57,606.96 37.99,607.40 39.41,607.85 40.84,608.30 42.26,608.76 43.68,609.23 45.10,609.70 46.53,610.17 47.95,610.65 49.37,611.13 50.79,611.62 52.22,612.12 53.64,612.61 55.06,613.12 56.48,613.62 57.91,614.13 59.33,614.64 60.75,615.16 62.17,615.68 63.60,616.20 65.02,616.72 66.44,617.25 67.87,617.78 69.29,618.32 70.71,618.85 72.13,619.39 73.56,619.93 74.98,620.47 76.40,621.02 77.82,621.56 79.25,622.11 80.67,622.66 82.09,623.21 83.51,623.76 84.94,624.31 86.36,624.86 87.78,625.42 89.20,625.97 90.63,626.53 92.05,627.08 93.47,627.64 94.89,628.20 96.32,628.75 97.74,629.31 99.16,629.87 100.59,630.42 102.01,630.98 103.43,631.54 104.85,632.09 106.28,632.65 107.70,633.20 109.12,633.75 110.54,634.31 111.97,634.86 113.39,635.41 114.81,635.96 116.23,636.51 117.66,637.06 119.08,637.60 120.50,638.15 121.92,638.69 123.35,639.23 124.77,639.77 126.19,640.31 127.62,640.84 129.04,641.38 130.46,641.91 131.88,642.44 133.31,642.97 134.73,643.49 136.15,644.01 137.57,644.53 139.00,645.05 140.42,645.57 141.84,646.08 143.26,646.59 144.69,647.10 146.11,647.61 147.53,648.11 148.95,648.61 150.38,649.11 151.80,649.60 153.22,650.09 154.64,650.58 156.07,651.06 157.49,651.55 158.91,652.02 160.34,652.50 161.76,652.97 163.18,653.44 164.60,653.91 166.03,654.37 167.45,654.83 168.87,655.28 170.29,655.74 171.72,656.19 173.14,656.63 174.56,657.07 175.98,657.51 177.41,657.95 178.83,658.38 180.25,658.81 181.67,659.23 183.10,659.65 184.52,660.07 185.94,660.48 187.36,660.89 188.79,661.30 190.21,661.70 191.63,662.10 193.06,662.49 194.48,662.89 195.90,663.27 197.32,663.66 198.75,664.04 200.17,664.41 201.59,664.79 203.01,665.16 204.44,665.52 205.86,665.89 207.28,666.24 208.70,666.60 210.13,666.95 211.55,667.30 212.97,667.64 214.39,667.98 215.82,668.32 217.24,668.66 218.66,668.99 220.08,669.31 221.51,669.64 222.93,669.96 224.35,670.27 225.78,670.59 227.20,670.90 228.62,671.21 230.04,671.51 231.47,671.81 232.89,672.11 234.31,672.40 235.73,672.69 237.16,672.98 238.58,673.27 240.00,673.55 241.42,673.83 242.85,674.11 244.27,674.38 245.69,674.65 247.11,674.92 248.54,675.19 249.96,675.45 251.38,675.71 252.81,675.97 254.23,676.23 255.65,676.48 257.07,676.74 258.50,676.98 259.92,677.23 261.34,677.48 262.76,677.72 264.19,677.96 265.61,678.21 267.03,678.44 268.45,678.68 269.88,678.92 271.30,679.15 272.72,679.38 274.14,679.61 275.57,679.85 276.99,680.07 278.41,680.30 279.83,680.53 281.26,680.76 282.68,680.98 284.10,681.21 285.53,681.43 286.95,681.66 288.37,681.88 289.79,682.10 291.22,682.33 292.64,682.55 294.06,682.77 295.48,683.00 296.91,683.22 298.33,683.44 299.75,683.67 301.17,683.89 302.60,684.12 304.02,684.35 305.44,684.58 306.86,684.81 308.29,685.04 309.71,685.27 311.13,685.50 312.55,685.74 313.98,685.97 315.40,686.21" fill="none" stroke="#e0262b" stroke-width="1.7" stroke-linejoin="round" clip-path="url(#cd)"/>
<polyline points="32.30,508.01 33.72,509.15 35.15,510.29 36.57,511.43 37.99,512.57 39.41,513.71 40.84,514.85 42.26,515.99 43.68,517.13 45.10,518.27 46.53,519.40 47.95,520.54 49.37,521.67 50.79,522.80 52.22,523.93 53.64,525.06 55.06,526.19 56.48,527.32 57.91,528.44 59.33,529.56 60.75,530.69 62.17,531.80 63.60,532.92 65.02,534.04 66.44,535.15 67.87,536.26 69.29,537.37 70.71,538.47 72.13,539.57 73.56,540.67 74.98,541.77 76.40,542.86 77.82,543.96 79.25,545.04 80.67,546.13 82.09,547.21 83.51,548.29 84.94,549.37 86.36,550.44 87.78,551.51 89.20,552.58 90.63,553.64 92.05,554.70 93.47,555.75 94.89,556.81 96.32,557.85 97.74,558.90 99.16,559.94 100.59,560.97 102.01,562.01 103.43,563.04 104.85,564.06 106.28,565.08 107.70,566.10 109.12,567.11 110.54,568.12 111.97,569.12 113.39,570.12 114.81,571.12 116.23,572.11 117.66,573.09 119.08,574.07 120.50,575.05 121.92,576.02 123.35,576.99 124.77,577.95 126.19,578.91 127.62,579.86 129.04,580.81 130.46,581.76 131.88,582.70 133.31,583.63 134.73,584.56 136.15,585.48 137.57,586.40 139.00,587.32 140.42,588.23 141.84,589.13 143.26,590.03 144.69,590.92 146.11,591.81 147.53,592.70 148.95,593.58 150.38,594.45 151.80,595.32 153.22,596.18 154.64,597.04 156.07,597.89 157.49,598.74 158.91,599.58 160.34,600.42 161.76,601.25 163.18,602.08 164.60,602.90 166.03,603.71 167.45,604.52 168.87,605.33 170.29,606.13 171.72,606.92 173.14,607.71 174.56,608.50 175.98,609.27 177.41,610.05 178.83,610.82 180.25,611.58 181.67,612.34 183.10,613.09 184.52,613.83 185.94,614.58 187.36,615.31 188.79,616.04 190.21,616.77 191.63,617.49 193.06,618.20 194.48,618.91 195.90,619.62 197.32,620.32 198.75,621.01 200.17,621.70 201.59,622.39 203.01,623.07 204.44,623.74 205.86,624.41 207.28,625.07 208.70,625.73 210.13,626.39 211.55,627.04 212.97,627.68 214.39,628.32 215.82,628.95 217.24,629.58 218.66,630.21 220.08,630.83 221.51,631.44 222.93,632.05 224.35,632.66 225.78,633.26 227.20,633.86 228.62,634.45 230.04,635.04 231.47,635.62 232.89,636.20 234.31,636.78 235.73,637.35 237.16,637.91 238.58,638.48 240.00,639.03 241.42,639.59 242.85,640.14 244.27,640.68 245.69,641.23 247.11,641.76 248.54,642.30 249.96,642.83 251.38,643.35 252.81,643.88 254.23,644.40 255.65,644.91 257.07,645.43 258.50,645.93 259.92,646.44 261.34,646.94 262.76,647.44 264.19,647.94 265.61,648.43 267.03,648.92 268.45,649.41 269.88,649.89 271.30,650.37 272.72,650.85 274.14,651.33 275.57,651.80 276.99,652.27 278.41,652.74 279.83,653.21 281.26,653.67 282.68,654.13 284.10,654.59 285.53,655.05 286.95,655.51 288.37,655.96 289.79,656.41 291.22,656.86 292.64,657.31 294.06,657.76 295.48,658.20 296.91,658.65 298.33,659.09 299.75,659.54 301.17,659.98 302.60,660.42 304.02,660.86 305.44,661.30 306.86,661.74 308.29,662.17 309.71,662.61 311.13,663.05 312.55,663.49 313.98,663.92 315.40,664.36" fill="none" stroke="#0e9c54" stroke-width="1.7" stroke-linejoin="round" clip-path="url(#cd)"/>
<polyline points="378.70,677.46 661.50,553.78" fill="none" stroke="#1ba3da" stroke-width="1.7" stroke-linejoin="round" clip-path="url(#ce)"/>
<text x="0" y="0" font-size="11" text-anchor="middle" transform="translate(180.10,106.30) rotate(-90)">% RhB</text>
<text x="346.10" y="233.60" font-size="11.1" text-anchor="middle">Time [days]</text>
<text x="0" y="0" font-size="10.8" text-anchor="middle" transform="translate(10.20,354.30) rotate(-90)">% of RhB</text>
<text x="173.40" y="491.10" font-size="11.1" text-anchor="middle">Time [days]</text>
<text x="0" y="0" font-size="10.8" text-anchor="middle" transform="translate(353.60,354.70) rotate(-90)">% of RhB</text>
<text x="522.40" y="485.50" font-size="11.1" text-anchor="middle">Time [days]</text>
<text x="0" y="0" font-size="9.2" text-anchor="middle" transform="translate(10.20,605.60) rotate(-90)">% RhB</text>
<text x="177.40" y="733.80" font-size="9.3" text-anchor="middle">PCL Layer Thickness</text>
<text x="0" y="0" font-size="9.5" text-anchor="middle" transform="translate(352.20,604.60) rotate(-90)">Delay Time [days]</text>
<text x="511.10" y="731.80" font-size="9.3" text-anchor="middle">PCL Layer Thickness</text>
<text x="220.40" y="188.00" font-size="18.5" text-anchor="start">a</text>
<text x="43.80" y="442.50" font-size="18.5" text-anchor="start">b</text>
<text x="390.30" y="442.40" font-size="18.5" text-anchor="start">c</text>
<text x="39.00" y="694.60" font-size="18.5" text-anchor="start">d</text>
<text x="388.60" y="694.80" font-size="18.5" text-anchor="start">e</text>
<rect x="223.50" y="16.00" width="89.70" height="38.80" fill="#fff" stroke="none"/>
<line x1="223.50" y1="15.00" x2="223.50" y2="55.80" stroke="#1c1a1b" stroke-width="1.3"/>
<line x1="313.20" y1="15.00" x2="313.20" y2="55.80" stroke="#1c1a1b" stroke-width="1.3"/>
<line x1="222.85" y1="16.00" x2="313.85" y2="16.00" stroke="#1c1a1b" stroke-width="2.0"/>
<line x1="222.85" y1="54.80" x2="313.85" y2="54.80" stroke="#1c1a1b" stroke-width="2.0"/>
<line x1="229.50" y1="25.60" x2="250.90" y2="25.60" stroke="#1ba3da" stroke-width="2.2" stroke-dasharray="4.5 2.3"/>
<text x="256.20" y="29.22" font-size="9.5" text-anchor="start">Experiment</text>
<line x1="229.50" y1="36.80" x2="250.90" y2="36.80" stroke="#e0262b" stroke-width="2.2"/>
<text x="256.20" y="40.42" font-size="9.5" text-anchor="start">FE Detailed</text>
<line x1="229.50" y1="46.80" x2="250.90" y2="46.80" stroke="#0e9c54" stroke-width="2.2"/>
<text x="256.20" y="50.42" font-size="9.5" text-anchor="start">FE Smeared</text>
<rect x="50.70" y="270.00" width="58.70" height="63.20" fill="#fff" stroke="none"/>
<line x1="50.70" y1="269.00" x2="50.70" y2="334.20" stroke="#1c1a1b" stroke-width="1.2"/>
<line x1="109.40" y1="269.00" x2="109.40" y2="334.20" stroke="#1c1a1b" stroke-width="1.2"/>
<line x1="50.10" y1="270.00" x2="110.00" y2="270.00" stroke="#1c1a1b" stroke-width="2.0"/>
<line x1="50.10" y1="333.20" x2="110.00" y2="333.20" stroke="#1c1a1b" stroke-width="2.0"/>
<line x1="56.00" y1="279.60" x2="74.00" y2="279.60" stroke="#a0479b" stroke-width="1.8"/>
<text x="78.40" y="282.44" font-size="7.9" text-anchor="start" class="lg">80 um</text>
<line x1="56.00" y1="289.00" x2="74.00" y2="289.00" stroke="#1c1a1b" stroke-width="1.8"/>
<text x="78.40" y="291.84" font-size="7.9" text-anchor="start" class="lg">120 um</text>
<line x1="56.00" y1="299.30" x2="74.00" y2="299.30" stroke="#1ba3da" stroke-width="1.8"/>
<text x="78.40" y="302.14" font-size="7.9" text-anchor="start" class="lg">160 um</text>
<line x1="56.00" y1="308.80" x2="74.00" y2="308.80" stroke="#0e9c54" stroke-width="1.8"/>
<text x="78.40" y="311.64" font-size="7.9" text-anchor="start" class="lg">200 um</text>
<line x1="56.00" y1="318.40" x2="74.00" y2="318.40" stroke="#e0262b" stroke-width="1.8"/>
<text x="78.40" y="321.24" font-size="7.9" text-anchor="start" class="lg">240 um</text>
<line x1="56.00" y1="327.00" x2="74.00" y2="327.00" stroke="#f2882b" stroke-width="1.8"/>
<text x="78.40" y="329.84" font-size="7.9" text-anchor="start" class="lg">280 um</text>
<rect x="394.70" y="270.20" width="62.60" height="51.60" fill="#fff" stroke="none"/>
<line x1="394.70" y1="269.20" x2="394.70" y2="322.80" stroke="#1c1a1b" stroke-width="1.2"/>
<line x1="457.30" y1="269.20" x2="457.30" y2="322.80" stroke="#1c1a1b" stroke-width="1.2"/>
<line x1="394.10" y1="270.20" x2="457.90" y2="270.20" stroke="#1c1a1b" stroke-width="2.0"/>
<line x1="394.10" y1="321.80" x2="457.90" y2="321.80" stroke="#1c1a1b" stroke-width="2.0"/>
<line x1="400.30" y1="277.00" x2="418.00" y2="277.00" stroke="#1c1a1b" stroke-width="1.8"/>
<text x="422.40" y="279.84" font-size="7.9" text-anchor="start" class="lg">P = 1e-3</text>
<line x1="400.30" y1="287.30" x2="418.00" y2="287.30" stroke="#1ba3da" stroke-width="1.8"/>
<text x="422.40" y="290.14" font-size="7.9" text-anchor="start" class="lg">P = 1e-4</text>
<line x1="400.30" y1="296.90" x2="418.00" y2="296.90" stroke="#0e9c54" stroke-width="1.8"/>
<text x="422.40" y="299.74" font-size="7.9" text-anchor="start" class="lg">P = 1e-5</text>
<line x1="400.30" y1="306.50" x2="418.00" y2="306.50" stroke="#e0262b" stroke-width="1.8"/>
<text x="422.40" y="309.34" font-size="7.9" text-anchor="start" class="lg">P = 1e-6</text>
<line x1="400.30" y1="316.00" x2="418.00" y2="316.00" stroke="#c852a6" stroke-width="1.8"/>
<text x="422.40" y="318.84" font-size="7.9" text-anchor="start" class="lg">P = 1e-7</text>
<rect x="233.60" y="516.40" width="69.70" height="31.90" fill="#fff" stroke="none"/>
<line x1="233.60" y1="515.80" x2="233.60" y2="548.90" stroke="#1c1a1b" stroke-width="1.2"/>
<line x1="303.30" y1="515.80" x2="303.30" y2="548.90" stroke="#1c1a1b" stroke-width="1.2"/>
<line x1="233.00" y1="516.40" x2="303.90" y2="516.40" stroke="#1c1a1b" stroke-width="1.2"/>
<line x1="233.00" y1="548.30" x2="303.90" y2="548.30" stroke="#1c1a1b" stroke-width="1.2"/>
<line x1="239.20" y1="522.45" x2="256.50" y2="522.45" stroke="#1ba3da" stroke-width="1.8"/>
<text x="260.90" y="525.29" font-size="7.9" text-anchor="start" class="lg">t = 30 days</text>
<line x1="239.20" y1="532.40" x2="256.50" y2="532.40" stroke="#e0262b" stroke-width="1.8"/>
<text x="260.90" y="535.24" font-size="7.9" text-anchor="start" class="lg">t = 40 days</text>
<line x1="239.20" y1="541.80" x2="256.50" y2="541.80" stroke="#0e9c54" stroke-width="1.8"/>
<text x="260.90" y="544.64" font-size="7.9" text-anchor="start" class="lg">t = 50 days</text>
</svg>
</body></html>
